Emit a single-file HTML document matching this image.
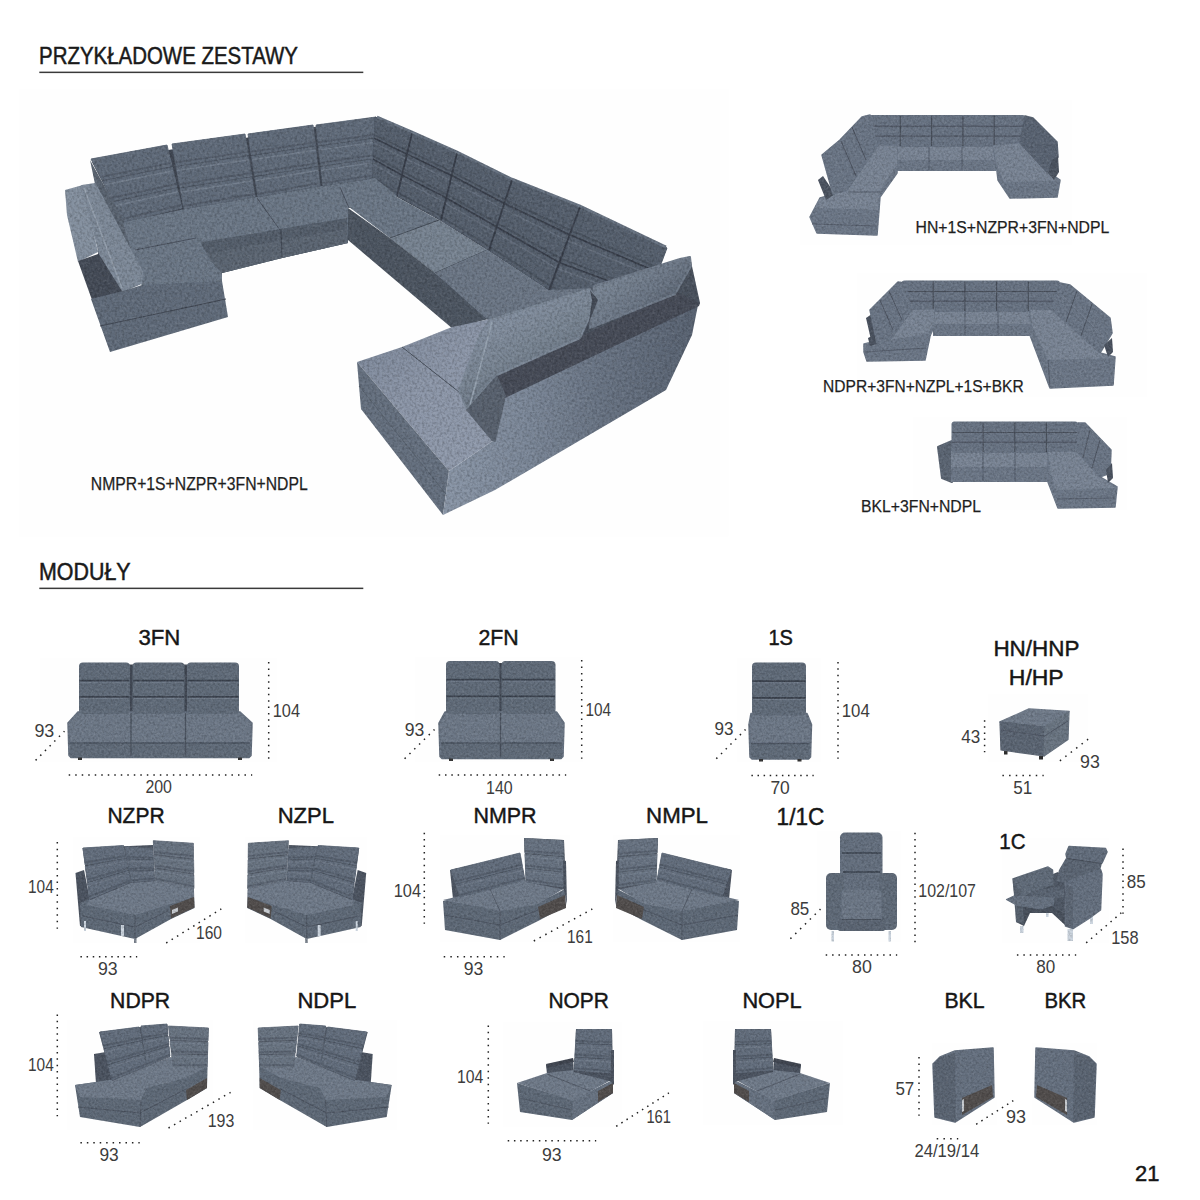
<!DOCTYPE html>
<html lang="pl"><head><meta charset="utf-8"><title>Moduły</title>
<style>
html,body{margin:0;padding:0;background:#fff}
svg{display:block}
text{font-family:"Liberation Sans",sans-serif;white-space:pre}
.d{stroke:#222;stroke-width:1.5;fill:none}
</style></head><body>
<svg width="1200" height="1200" viewBox="0 0 1200 1200">
<defs>
<filter id="b" x="-2%" y="-2%" width="104%" height="104%" color-interpolation-filters="sRGB">
<feGaussianBlur in="SourceGraphic" stdDeviation="0.7" result="bl"/>
<feTurbulence type="fractalNoise" baseFrequency="0.4" numOctaves="2" seed="3" result="n"/>
<feColorMatrix in="n" type="matrix" values="0 0 0 0 0  0 0 0 0 0  0 0 0 0 0  0.45 0 0 0 -0.18" result="na"/>
<feComposite in="na" in2="bl" operator="in" result="nd"/>
<feColorMatrix in="n" type="matrix" values="0 0 0 0 1  0 0 0 0 1  0 0 0 0 1  0 0.22 0 0 -0.1" result="nb"/>
<feComposite in="nb" in2="bl" operator="in" result="nl"/>
<feMerge><feMergeNode in="bl"/><feMergeNode in="nd"/><feMergeNode in="nl"/></feMerge>
</filter>
<linearGradient id="g0" gradientUnits="userSpaceOnUse" x1="360" y1="340" x2="470" y2="460"><stop offset="0" stop-color="#7e899b"/><stop offset="0.5" stop-color="#8d97a9"/><stop offset="1" stop-color="#909aac"/></linearGradient><linearGradient id="g1" gradientUnits="userSpaceOnUse" x1="450" y1="0" x2="700" y2="0"><stop offset="0" stop-color="#8995a6"/><stop offset="0.3" stop-color="#7c8899"/><stop offset="0.6" stop-color="#697484"/><stop offset="1" stop-color="#586271"/></linearGradient><linearGradient id="g2" gradientUnits="userSpaceOnUse" x1="600" y1="280" x2="640" y2="330"><stop offset="0" stop-color="#7c8897"/><stop offset="0.6" stop-color="#6d7887"/><stop offset="1" stop-color="#5b6573"/></linearGradient><linearGradient id="g3" gradientUnits="userSpaceOnUse" x1="500" y1="310" x2="540" y2="380"><stop offset="0" stop-color="#8692a3"/><stop offset="0.6" stop-color="#788492"/><stop offset="1" stop-color="#677281"/></linearGradient>
<filter id="b2" x="-3%" y="-3%" width="106%" height="106%" color-interpolation-filters="sRGB">
<feGaussianBlur in="SourceGraphic" stdDeviation="0.5" result="bl"/>
<feTurbulence type="fractalNoise" baseFrequency="0.45" numOctaves="2" seed="7" result="n"/>
<feColorMatrix in="n" type="matrix" values="0 0 0 0 0  0 0 0 0 0  0 0 0 0 0  0.4 0 0 0 -0.16" result="na"/>
<feComposite in="na" in2="bl" operator="in" result="nd"/>
<feColorMatrix in="n" type="matrix" values="0 0 0 0 1  0 0 0 0 1  0 0 0 0 1  0 0.22 0 0 -0.1" result="nb"/>
<feComposite in="nb" in2="bl" operator="in" result="nl"/>
<feMerge><feMergeNode in="bl"/><feMergeNode in="nd"/><feMergeNode in="nl"/></feMerge>
</filter>
</defs>
<rect x="19.0" y="89.0" width="709.5" height="447.5" rx="0" fill="#fefefe" />
<rect x="40.0" y="658.0" width="237.0" height="104.0" rx="0" fill="#fefefe" />
<rect x="415.0" y="657.0" width="168.0" height="105.0" rx="0" fill="#fefefe" />
<rect x="737.0" y="658.0" width="84.0" height="104.0" rx="0" fill="#fefefe" />
<rect x="988.0" y="694.0" width="100.0" height="68.0" rx="0" fill="#fefefe" />
<rect x="73.0" y="837.0" width="127.0" height="106.0" rx="0" fill="#fefefe" />
<rect x="245.0" y="837.0" width="122.0" height="106.0" rx="0" fill="#fefefe" />
<rect x="67.0" y="1020.0" width="146.0" height="110.0" rx="0" fill="#fefefe" />
<rect x="253.0" y="1020.0" width="144.0" height="110.0" rx="0" fill="#fefefe" />
<rect x="440.0" y="835.0" width="130.0" height="107.0" rx="0" fill="#fefefe" />
<rect x="613.0" y="835.0" width="127.0" height="107.0" rx="0" fill="#fefefe" />
<rect x="503.0" y="1022.0" width="119.0" height="105.0" rx="0" fill="#fefefe" />
<rect x="703.0" y="1021.0" width="140.0" height="104.0" rx="0" fill="#fefefe" />
<rect x="817.0" y="831.0" width="84.0" height="111.0" rx="0" fill="#fefefe" />
<rect x="1002.0" y="838.0" width="107.0" height="105.0" rx="0" fill="#fefefe" />
<rect x="932.0" y="1043.0" width="65.0" height="82.0" rx="0" fill="#fefefe" />
<rect x="1032.0" y="1043.0" width="65.0" height="82.0" rx="0" fill="#fefefe" />
<rect x="800.0" y="100.0" width="272.0" height="145.0" rx="0" fill="#fefefe" />
<rect x="857.0" y="273.0" width="290.0" height="124.0" rx="0" fill="#fefefe" />
<rect x="913.0" y="417.0" width="214.0" height="93.0" rx="0" fill="#fefefe" />
<g filter="url(#b)">
<polygon points="92.0,162.0 377.0,117.0 376.0,180.0 124.0,224.0" fill="#414854" />
<polygon points="123.0,222.0 185.0,209.0 257.0,197.0 322.0,186.0 375.0,178.0 400.0,190.0 348.0,208.0 348.0,243.0 282.0,258.0 222.0,273.0 222.0,283.0 142.0,286.0" fill="#6c7887" />
<polygon points="197.0,243.0 280.0,229.0 347.0,218.0 348.0,243.0 282.0,258.0 222.0,273.0 212.0,262.0" fill="#555f6c" />
<polygon points="203.0,254.0 281.0,240.0 347.0,229.0 348.0,243.0 282.0,258.0 222.0,273.0 212.0,262.0" fill="#5c6673" />
<polyline points="281.0,230.0 282.0,257.0" fill="none" stroke="#414854" stroke-width="1" />
<polyline points="257.0,198.0 280.0,230.0" fill="none" stroke="#414854" stroke-width="0.8" />
<g stroke-linejoin="round">
<polygon points="91.0,159.0 167.0,145.0 182.0,208.0 124.0,222.0" fill="#414854" />
<polygon points="91.0,159.0 167.0,145.0 172.0,166.0 102.0,180.0" fill="#616c7b" stroke="#616c7b" stroke-width="0.8"/>
<polyline points="100.3,176.8 171.2,162.8" fill="none" stroke="#414854" stroke-width="1.8" opacity="0.4"/>
<polygon points="102.6,181.2 172.3,167.3 177.0,187.0 113.0,201.0" fill="#616c7b" stroke="#616c7b" stroke-width="0.8"/>
<polyline points="104.5,184.7 173.1,170.8" fill="none" stroke="#7f8a99" stroke-width="1.4" opacity="0.6"/>
<polyline points="111.4,198.0 176.3,184.0" fill="none" stroke="#414854" stroke-width="1.8" opacity="0.4"/>
<polygon points="113.6,202.2 177.3,188.3 182.0,208.0 124.0,222.0" fill="#616c7b" stroke="#616c7b" stroke-width="0.8"/>
<polyline points="115.5,205.7 178.1,191.8" fill="none" stroke="#7f8a99" stroke-width="1.4" opacity="0.6"/>
<polyline points="122.4,219.0 181.3,205.0" fill="none" stroke="#414854" stroke-width="1.8" opacity="0.4"/>
</g>
<g stroke-linejoin="round">
<polygon points="172.0,144.0 245.0,134.0 255.0,197.0 184.0,209.0" fill="#414854" />
<polygon points="172.0,144.0 245.0,134.0 248.3,155.0 176.0,165.7" fill="#616c7b" stroke="#616c7b" stroke-width="0.8"/>
<polyline points="175.4,162.4 247.8,151.8" fill="none" stroke="#414854" stroke-width="1.8" opacity="0.4"/>
<polygon points="176.2,166.9 248.5,156.3 251.7,176.0 180.0,187.3" fill="#616c7b" stroke="#616c7b" stroke-width="0.8"/>
<polyline points="176.9,170.6 249.1,159.8" fill="none" stroke="#7f8a99" stroke-width="1.4" opacity="0.6"/>
<polyline points="179.4,184.3 251.2,173.0" fill="none" stroke="#414854" stroke-width="1.8" opacity="0.4"/>
<polygon points="180.2,188.6 251.9,177.3 255.0,197.0 184.0,209.0" fill="#616c7b" stroke="#616c7b" stroke-width="0.8"/>
<polyline points="180.9,192.3 252.4,180.8" fill="none" stroke="#7f8a99" stroke-width="1.4" opacity="0.6"/>
<polyline points="183.4,205.9 254.5,194.0" fill="none" stroke="#414854" stroke-width="1.8" opacity="0.4"/>
</g>
<g stroke-linejoin="round">
<polygon points="248.0,134.0 313.0,125.0 320.0,186.0 258.0,197.0" fill="#414854" />
<polygon points="248.0,134.0 313.0,125.0 315.3,145.3 251.3,155.0" fill="#616c7b" stroke="#616c7b" stroke-width="0.8"/>
<polyline points="250.8,151.8 315.0,142.3" fill="none" stroke="#414854" stroke-width="1.8" opacity="0.4"/>
<polygon points="251.5,156.3 315.5,146.6 317.7,165.7 254.7,176.0" fill="#616c7b" stroke="#616c7b" stroke-width="0.8"/>
<polyline points="252.1,159.8 315.9,150.1" fill="none" stroke="#7f8a99" stroke-width="1.4" opacity="0.6"/>
<polyline points="254.2,173.0 317.3,162.8" fill="none" stroke="#414854" stroke-width="1.8" opacity="0.4"/>
<polygon points="254.9,177.3 317.8,167.0 320.0,186.0 258.0,197.0" fill="#616c7b" stroke="#616c7b" stroke-width="0.8"/>
<polyline points="255.4,180.8 318.2,170.4" fill="none" stroke="#7f8a99" stroke-width="1.4" opacity="0.6"/>
<polyline points="257.5,194.0 319.7,183.1" fill="none" stroke="#414854" stroke-width="1.8" opacity="0.4"/>
</g>
<g stroke-linejoin="round">
<polygon points="316.0,125.0 376.0,117.0 375.0,178.0 323.0,186.0" fill="#414854" />
<polygon points="316.0,125.0 376.0,117.0 375.7,137.3 318.3,145.3" fill="#616c7b" stroke="#616c7b" stroke-width="0.8"/>
<polyline points="318.0,142.3 375.7,134.3" fill="none" stroke="#414854" stroke-width="1.8" opacity="0.4"/>
<polygon points="318.5,146.6 375.6,138.6 375.3,157.7 320.7,165.7" fill="#616c7b" stroke="#616c7b" stroke-width="0.8"/>
<polyline points="318.9,150.1 375.6,142.1" fill="none" stroke="#7f8a99" stroke-width="1.4" opacity="0.6"/>
<polyline points="320.3,162.8 375.4,154.8" fill="none" stroke="#414854" stroke-width="1.8" opacity="0.4"/>
<polygon points="320.8,167.0 375.3,159.0 375.0,178.0 323.0,186.0" fill="#616c7b" stroke="#616c7b" stroke-width="0.8"/>
<polyline points="321.2,170.4 375.3,162.4" fill="none" stroke="#7f8a99" stroke-width="1.4" opacity="0.6"/>
<polyline points="322.7,183.1 375.0,175.1" fill="none" stroke="#414854" stroke-width="1.8" opacity="0.4"/>
</g>
<polygon points="90.0,160.0 125.0,223.0 143.0,274.0 141.0,284.0 120.0,292.0 98.0,254.0 95.0,184.0" fill="#5b6572" />
<polygon points="65.0,190.0 83.0,185.0 98.0,252.0 78.0,262.0 67.0,215.0" fill="#8591a0" />
<polygon points="78.0,261.0 101.0,253.0 125.0,291.0 92.0,300.0" fill="#454c58" />
<polygon points="123.0,223.0 183.0,210.0 222.0,282.0 142.0,286.0" fill="#6c7887" />
<polygon points="82.0,186.0 95.0,184.0 142.0,272.0 141.0,283.0 123.0,291.0 100.0,254.0" fill="#7e8a99" stroke="#7e8a99" stroke-width="2" stroke-linejoin="round"/>
<polyline points="84.0,188.0 122.0,288.0" fill="none" stroke="#949fad" stroke-width="1.5" />
<polygon points="91.0,299.0 123.0,291.0 142.0,285.0 222.0,281.0 228.0,317.0 110.0,352.0" fill="#616c7b" />
<polyline points="100.0,326.0 226.0,299.0" fill="none" stroke="#414854" stroke-width="1" />
<polyline points="135.0,250.0 196.0,238.0" fill="none" stroke="#414854" stroke-width="0.8" />
<polygon points="375.0,117.0 667.0,248.0 660.0,262.0 600.0,300.0 548.0,290.0 487.0,250.0 439.0,220.0 395.0,196.0 372.0,180.0" fill="#454d59" />
<g stroke-linejoin="round">
<polygon points="375.0,117.0 412.0,133.0 397.0,196.0 372.0,180.0" fill="#383e49" />
<polygon points="375.0,117.0 412.0,133.0 407.0,154.0 374.0,138.0" fill="#56606e" stroke="#56606e" stroke-width="0.8"/>
<polyline points="374.1,134.8 407.8,150.8" fill="none" stroke="#383e49" stroke-width="1.8" opacity="0.4"/>
<polygon points="373.9,139.3 406.7,155.3 402.0,175.0 373.0,159.0" fill="#56606e" stroke="#56606e" stroke-width="0.8"/>
<polyline points="373.8,142.8 405.9,158.8" fill="none" stroke="#6e7887" stroke-width="1.4" opacity="0.6"/>
<polyline points="373.1,156.0 402.7,172.0" fill="none" stroke="#383e49" stroke-width="1.8" opacity="0.4"/>
<polygon points="372.9,160.3 401.7,176.3 397.0,196.0 372.0,180.0" fill="#56606e" stroke="#56606e" stroke-width="0.8"/>
<polyline points="372.8,163.8 400.9,179.8" fill="none" stroke="#6e7887" stroke-width="1.4" opacity="0.6"/>
<polyline points="372.1,177.0 397.7,193.0" fill="none" stroke="#383e49" stroke-width="1.8" opacity="0.4"/>
</g>
<g stroke-linejoin="round">
<polygon points="412.0,133.0 457.0,153.0 441.0,220.0 398.0,196.0" fill="#383e49" />
<polygon points="412.0,133.0 457.0,153.0 451.7,175.3 407.3,154.0" fill="#56606e" stroke="#56606e" stroke-width="0.8"/>
<polyline points="408.0,150.8 452.5,172.0" fill="none" stroke="#383e49" stroke-width="1.8" opacity="0.4"/>
<polygon points="407.1,155.3 451.4,176.6 446.3,197.7 402.7,175.0" fill="#56606e" stroke="#56606e" stroke-width="0.8"/>
<polyline points="406.3,158.8 450.5,180.4" fill="none" stroke="#6e7887" stroke-width="1.4" opacity="0.6"/>
<polyline points="403.3,172.0 447.1,194.5" fill="none" stroke="#383e49" stroke-width="1.8" opacity="0.4"/>
<polygon points="402.4,176.3 446.0,198.9 441.0,220.0 398.0,196.0" fill="#56606e" stroke="#56606e" stroke-width="0.8"/>
<polyline points="401.6,179.8 445.1,202.7" fill="none" stroke="#6e7887" stroke-width="1.4" opacity="0.6"/>
<polyline points="398.7,193.0 441.8,216.8" fill="none" stroke="#383e49" stroke-width="1.8" opacity="0.4"/>
</g>
<g stroke-linejoin="round">
<polygon points="457.0,153.0 512.0,180.0 489.0,250.0 442.0,221.0" fill="#383e49" />
<polygon points="457.0,153.0 512.0,180.0 504.3,203.3 452.0,175.7" fill="#56606e" stroke="#56606e" stroke-width="0.8"/>
<polyline points="452.8,172.3 505.5,199.8" fill="none" stroke="#383e49" stroke-width="1.8" opacity="0.4"/>
<polygon points="451.7,176.9 503.9,204.6 496.7,226.7 447.0,198.3" fill="#56606e" stroke="#56606e" stroke-width="0.8"/>
<polyline points="450.9,180.8 502.6,208.5" fill="none" stroke="#6e7887" stroke-width="1.4" opacity="0.6"/>
<polyline points="447.7,195.1 497.8,223.4" fill="none" stroke="#383e49" stroke-width="1.8" opacity="0.4"/>
<polygon points="446.7,199.6 496.3,227.9 489.0,250.0 442.0,221.0" fill="#56606e" stroke="#56606e" stroke-width="0.8"/>
<polyline points="445.9,203.5 495.0,231.9" fill="none" stroke="#6e7887" stroke-width="1.4" opacity="0.6"/>
<polyline points="442.7,217.8 490.1,246.7" fill="none" stroke="#383e49" stroke-width="1.8" opacity="0.4"/>
</g>
<g stroke-linejoin="round">
<polygon points="512.0,180.0 580.0,207.0 549.0,290.0 490.0,251.0" fill="#383e49" />
<polygon points="512.0,180.0 580.0,207.0 569.7,234.7 504.7,203.7" fill="#56606e" stroke="#56606e" stroke-width="0.8"/>
<polyline points="505.8,200.1 571.2,230.5" fill="none" stroke="#383e49" stroke-width="1.8" opacity="0.4"/>
<polygon points="504.3,204.9 569.2,235.9 559.3,262.3 497.3,227.3" fill="#56606e" stroke="#56606e" stroke-width="0.8"/>
<polyline points="503.0,208.9 567.4,240.6" fill="none" stroke="#6e7887" stroke-width="1.4" opacity="0.6"/>
<polyline points="498.4,224.0 560.8,258.4" fill="none" stroke="#383e49" stroke-width="1.8" opacity="0.4"/>
<polygon points="496.9,228.6 558.9,263.6 549.0,290.0 490.0,251.0" fill="#56606e" stroke="#56606e" stroke-width="0.8"/>
<polyline points="495.7,232.6 557.1,268.3" fill="none" stroke="#6e7887" stroke-width="1.4" opacity="0.6"/>
<polyline points="491.0,247.6 550.5,286.0" fill="none" stroke="#383e49" stroke-width="1.8" opacity="0.4"/>
</g>
<g stroke-linejoin="round">
<polygon points="580.0,207.0 667.0,248.0 640.0,320.0 551.0,291.0" fill="#383e49" />
<polygon points="580.0,207.0 667.0,248.0 658.0,272.0 570.3,235.0" fill="#56606e" stroke="#56606e" stroke-width="0.8"/>
<polyline points="571.8,230.8 659.4,268.4" fill="none" stroke="#383e49" stroke-width="1.8" opacity="0.4"/>
<polygon points="569.9,236.2 657.5,273.2 649.0,296.0 560.7,263.0" fill="#56606e" stroke="#56606e" stroke-width="0.8"/>
<polyline points="568.2,241.0 656.0,277.3" fill="none" stroke="#6e7887" stroke-width="1.4" opacity="0.6"/>
<polyline points="562.1,259.0 650.3,292.6" fill="none" stroke="#383e49" stroke-width="1.8" opacity="0.4"/>
<polygon points="560.2,264.2 648.5,297.2 640.0,320.0 551.0,291.0" fill="#56606e" stroke="#56606e" stroke-width="0.8"/>
<polyline points="558.6,269.0 647.0,301.3" fill="none" stroke="#6e7887" stroke-width="1.4" opacity="0.6"/>
<polyline points="552.4,287.0 641.3,316.6" fill="none" stroke="#383e49" stroke-width="1.8" opacity="0.4"/>
</g>
<polyline points="412.0,133.0 397.0,196.0" fill="none" stroke="#383e4a" stroke-width="1.8" />
<polyline points="457.0,153.0 441.0,220.0" fill="none" stroke="#383e4a" stroke-width="1.8" />
<polyline points="512.0,180.0 489.0,250.0" fill="none" stroke="#383e4a" stroke-width="1.8" />
<polyline points="580.0,207.0 549.0,290.0" fill="none" stroke="#383e4a" stroke-width="1.8" />
<polyline points="374.0,138.0 407.0,154.0 451.7,175.3 504.3,203.3 569.7,234.7 658.0,272.0" fill="none" stroke="#383e4a" stroke-width="1.3" />
<polyline points="373.0,159.0 402.0,175.0 446.3,197.7 496.7,226.7 559.3,262.3 649.0,296.0" fill="none" stroke="#383e4a" stroke-width="1.3" />
<polyline points="377.0,117.0 412.0,132.0 457.0,152.0 512.0,179.0 580.0,206.0 666.0,247.0" fill="none" stroke="#687382" stroke-width="2.5" />
<polygon points="349.0,207.0 372.0,180.0 395.0,196.0 439.0,220.0 487.0,250.0 548.0,290.0 490.0,316.0 435.0,273.0 390.0,238.0" fill="#6c7887" />
<polygon points="390.0,238.0 439.0,220.0 487.0,250.0 548.0,290.0 490.0,316.0 435.0,273.0" fill="#788492" />
<polyline points="390.0,238.0 439.0,220.0" fill="none" stroke="#414854" stroke-width="0.9" />
<polyline points="435.0,273.0 487.0,250.0" fill="none" stroke="#414854" stroke-width="0.9" />
<polygon points="348.0,208.0 390.0,238.0 435.0,273.0 492.0,318.0 453.0,329.0 348.0,240.0" fill="#4d5662" />
<polygon points="340.0,186.0 375.0,178.0 397.0,196.0 349.0,208.0" fill="#6c7887" />
<polyline points="349.0,208.0 340.0,187.0" fill="none" stroke="#414854" stroke-width="0.8" />
<polygon points="435.0,273.0 487.0,250.0 548.0,290.0 600.0,288.0 560.0,310.0 490.0,322.0" fill="#6c7786" />
<polygon points="486.0,322.0 690.0,257.0 700.0,303.0 505.0,396.0 470.0,400.0" fill="#4a525e" />
<polygon points="357.0,362.0 402.0,347.0 452.0,327.0 490.0,319.0 459.0,390.0 494.0,440.0 449.0,471.0" fill="url(#g0)" />
<polyline points="402.0,347.0 459.0,392.0" fill="none" stroke="#414854" stroke-width="0.9" />
<polygon points="357.0,362.0 449.0,471.0 443.0,515.0 361.0,409.0" fill="#667180" />
<polyline points="359.0,386.0 446.0,494.0" fill="none" stroke="#58626f" stroke-width="1" />
<polygon points="449.0,471.0 494.0,440.0 505.0,395.0 698.0,305.0 692.0,335.0 666.0,390.0 495.0,490.0 443.0,515.0" fill="url(#g1)" />
<polygon points="497.0,375.0 677.0,292.0 700.0,303.0 699.0,306.0 505.0,398.0" fill="#474c58" />
<polygon points="594.0,286.0 680.0,259.0 690.0,257.0 691.0,266.0 675.0,294.0 590.0,328.0" fill="url(#g2)" stroke="#717c8b" stroke-width="2" stroke-linejoin="round"/>
<polygon points="490.0,320.0 590.0,289.0 597.0,300.0 580.0,338.0 497.0,375.0 467.0,410.0 459.0,390.0 481.0,332.0" fill="url(#g3)" stroke="#7c8897" stroke-width="2" stroke-linejoin="round"/>
<polyline points="492.0,322.0 470.0,405.0" fill="none" stroke="#95a1af" stroke-width="1.5" />
<polygon points="590.0,290.0 598.0,300.0 583.0,337.0 588.0,330.0 592.0,300.0" fill="#444b57" />
<polygon points="466.0,410.0 497.0,375.0 506.0,396.0 495.5,442.0 492.0,441.0" fill="#59626f" />
</g>
<g filter="url(#b2)">
<rect x="80.0" y="664.5" width="158.0" height="48.5" rx="0" fill="#414854" />
<polygon points="78.0,712.0 240.0,712.0 252.0,723.0 251.0,755.5 249.0,757.5 71.0,757.5 69.0,755.5 68.0,723.0" fill="#677281" stroke="#677281" stroke-width="1.5" stroke-linejoin="round"/>
<polygon points="79.0,713.0 239.0,713.0 251.0,724.0 250.0,743.0 70.0,743.0 69.0,724.0" fill="#6e7988" />
<rect x="70.0" y="743.0" width="180.0" height="14.5" rx="0" fill="#616c7a" />
<polyline points="70.0,743.0 250.0,743.0" fill="none" stroke="#4d5663" stroke-width="1.3" />
<rect x="79" y="662.5" width="51" height="51.5" rx="4" fill="#616c7a"/>
<polyline points="79.5,680.7 129.5,680.7" fill="none" stroke="#3b424e" stroke-width="1.7" />
<polyline points="80.5,682.3 128.5,682.3" fill="none" stroke="#7d8897" stroke-width="1.1" opacity="0.6"/>
<polyline points="79.5,696.8 129.5,696.8" fill="none" stroke="#3b424e" stroke-width="1.7" />
<polyline points="80.5,698.4 128.5,698.4" fill="none" stroke="#7d8897" stroke-width="1.1" opacity="0.6"/>
<rect x="132.5" y="662.5" width="52.0" height="51.5" rx="4" fill="#616c7a"/>
<polyline points="133.0,680.7 184.0,680.7" fill="none" stroke="#3b424e" stroke-width="1.7" />
<polyline points="134.0,682.3 183.0,682.3" fill="none" stroke="#7d8897" stroke-width="1.1" opacity="0.6"/>
<polyline points="133.0,696.8 184.0,696.8" fill="none" stroke="#3b424e" stroke-width="1.7" />
<polyline points="134.0,698.4 183.0,698.4" fill="none" stroke="#7d8897" stroke-width="1.1" opacity="0.6"/>
<rect x="187" y="662.5" width="52" height="51.5" rx="4" fill="#616c7a"/>
<polyline points="187.5,680.7 238.5,680.7" fill="none" stroke="#3b424e" stroke-width="1.7" />
<polyline points="188.5,682.3 237.5,682.3" fill="none" stroke="#7d8897" stroke-width="1.1" opacity="0.6"/>
<polyline points="187.5,696.8 238.5,696.8" fill="none" stroke="#3b424e" stroke-width="1.7" />
<polyline points="188.5,698.4 237.5,698.4" fill="none" stroke="#7d8897" stroke-width="1.1" opacity="0.6"/>
<polyline points="131.0,713.0 131.0,755.5" fill="none" stroke="#4a525f" stroke-width="1.3" />
<polyline points="185.5,713.0 185.5,755.5" fill="none" stroke="#4a525f" stroke-width="1.3" />
<rect x="78.0" y="757.5" width="4.0" height="2.5" rx="0" fill="#333" />
<rect x="238.0" y="757.5" width="4.0" height="2.5" rx="0" fill="#333" />
</g>
<g filter="url(#b2)">
<rect x="447.0" y="663.0" width="107.5" height="50.0" rx="0" fill="#414854" />
<polygon points="445.0,712.0 556.5,712.0 564.0,723.0 563.0,756.5 561.0,758.5 442.0,758.5 440.0,756.5 439.0,723.0" fill="#677281" stroke="#677281" stroke-width="1.5" stroke-linejoin="round"/>
<polygon points="446.0,713.0 555.5,713.0 563.0,724.0 562.0,743.0 441.0,743.0 440.0,724.0" fill="#6e7988" />
<rect x="441.0" y="743.0" width="121.0" height="15.5" rx="0" fill="#616c7a" />
<polyline points="441.0,743.0 562.0,743.0" fill="none" stroke="#4d5663" stroke-width="1.3" />
<rect x="446" y="661" width="53.5" height="53" rx="4" fill="#616c7a"/>
<polyline points="446.5,679.7 499.0,679.7" fill="none" stroke="#3b424e" stroke-width="1.7" />
<polyline points="447.5,681.3 498.0,681.3" fill="none" stroke="#7d8897" stroke-width="1.1" opacity="0.6"/>
<polyline points="446.5,696.4 499.0,696.4" fill="none" stroke="#3b424e" stroke-width="1.7" />
<polyline points="447.5,698.0 498.0,698.0" fill="none" stroke="#7d8897" stroke-width="1.1" opacity="0.6"/>
<rect x="501.5" y="661" width="54.0" height="53" rx="4" fill="#616c7a"/>
<polyline points="502.0,679.7 555.0,679.7" fill="none" stroke="#3b424e" stroke-width="1.7" />
<polyline points="503.0,681.3 554.0,681.3" fill="none" stroke="#7d8897" stroke-width="1.1" opacity="0.6"/>
<polyline points="502.0,696.4 555.0,696.4" fill="none" stroke="#3b424e" stroke-width="1.7" />
<polyline points="503.0,698.0 554.0,698.0" fill="none" stroke="#7d8897" stroke-width="1.1" opacity="0.6"/>
<polyline points="500.5,713.0 500.5,756.5" fill="none" stroke="#4a525f" stroke-width="1.3" />
<rect x="449.0" y="758.5" width="4.0" height="2.5" rx="0" fill="#333" />
<rect x="550.0" y="758.5" width="4.0" height="2.5" rx="0" fill="#333" />
</g>
<g filter="url(#b2)">
<rect x="753.0" y="664.5" width="52.0" height="50.0" rx="0" fill="#414854" />
<polygon points="751.0,713.5 807.0,713.5 811.5,724.5 810.5,757.0 808.5,759.0 752.0,759.0 750.0,757.0 749.0,724.5" fill="#677281" stroke="#677281" stroke-width="1.5" stroke-linejoin="round"/>
<polygon points="752.0,714.5 806.0,714.5 810.5,725.5 809.5,743.5 751.0,743.5 750.0,725.5" fill="#6e7988" />
<rect x="751.0" y="743.5" width="58.5" height="15.5" rx="0" fill="#616c7a" />
<polyline points="751.0,743.5 809.5,743.5" fill="none" stroke="#4d5663" stroke-width="1.3" />
<rect x="752" y="662.5" width="54" height="53.0" rx="4" fill="#616c7a"/>
<polyline points="752.5,681.2 805.5,681.2" fill="none" stroke="#3b424e" stroke-width="1.7" />
<polyline points="753.5,682.8 804.5,682.8" fill="none" stroke="#7d8897" stroke-width="1.1" opacity="0.6"/>
<polyline points="752.5,697.9 805.5,697.9" fill="none" stroke="#3b424e" stroke-width="1.7" />
<polyline points="753.5,699.5 804.5,699.5" fill="none" stroke="#7d8897" stroke-width="1.1" opacity="0.6"/>
<rect x="759.0" y="759.0" width="4.0" height="2.5" rx="0" fill="#333" />
<rect x="797.5" y="759.0" width="4.0" height="2.5" rx="0" fill="#333" />
</g>
<g filter="url(#b2)">
<polygon points="75.5,873.0 84.0,870.0 90.0,900.0 87.0,927.0 80.0,926.0" fill="#4c5461" />
<polygon points="80.0,903.0 90.0,899.0 194.0,890.0 194.5,908.0 171.0,919.0 135.0,939.0 81.0,927.0" fill="#5f6a78" />
<polygon points="89.5,899.0 131.0,881.0 154.7,880.0 194.0,888.5 194.0,897.0 169.5,904.5 135.0,915.0 87.0,905.0" fill="#707b8a" />
<polyline points="83.0,916.0 135.0,927.0 168.0,911.0" fill="none" stroke="#4c5461" stroke-width="0.9" />
<polyline points="135.0,915.0 135.0,939.0" fill="none" stroke="#4c5461" stroke-width="0.8" />
<polygon points="170.0,906.0 194.0,897.0 194.5,907.5 171.0,918.5" fill="#524e4d" />
<polygon points="172.0,910.0 178.0,907.5 178.0,911.5 172.0,914.0" fill="#c9cdd2" />
<polygon points="82.5,848.0 153.0,845.0 155.0,881.0 131.0,883.0 90.0,900.0" fill="#4c5461" />
<g stroke-linejoin="round">
<polygon points="83.0,848.0 123.5,845.5 130.5,882.0 89.5,899.0" fill="#414854" />
<polygon points="83.0,848.0 123.5,845.5 125.8,857.7 85.2,865.0" fill="#636e7d" stroke="#636e7d" stroke-width="0.8"/>
<polyline points="84.8,862.5 125.5,855.8" fill="none" stroke="#414854" stroke-width="1.8" opacity="0.4"/>
<polygon points="85.3,866.3 126.1,858.9 128.2,869.8 87.3,882.0" fill="#636e7d" stroke="#636e7d" stroke-width="0.8"/>
<polyline points="85.7,869.1 126.5,860.9" fill="none" stroke="#747f8e" stroke-width="1.4" opacity="0.6"/>
<polyline points="87.0,879.6 127.9,868.2" fill="none" stroke="#414854" stroke-width="1.8" opacity="0.4"/>
<polygon points="87.5,883.3 128.4,871.1 130.5,882.0 89.5,899.0" fill="#636e7d" stroke="#636e7d" stroke-width="0.8"/>
<polyline points="87.9,886.1 128.8,873.1" fill="none" stroke="#747f8e" stroke-width="1.4" opacity="0.6"/>
<polyline points="89.2,896.6 130.2,880.4" fill="none" stroke="#414854" stroke-width="1.8" opacity="0.4"/>
</g>
<g stroke-linejoin="round">
<polygon points="124.8,846.5 152.8,849.0 154.5,880.0 131.8,882.0" fill="#414854" />
<polygon points="124.8,846.5 152.8,849.0 153.4,859.3 127.1,858.3" fill="#636e7d" stroke="#636e7d" stroke-width="0.8"/>
<polyline points="126.8,856.6 153.3,857.8" fill="none" stroke="#414854" stroke-width="1.8" opacity="0.4"/>
<polygon points="127.4,859.6 153.4,860.6 153.9,869.7 129.5,870.2" fill="#636e7d" stroke="#636e7d" stroke-width="0.8"/>
<polyline points="127.8,861.5 153.5,862.3" fill="none" stroke="#747f8e" stroke-width="1.4" opacity="0.6"/>
<polyline points="129.2,868.6 153.9,868.3" fill="none" stroke="#414854" stroke-width="1.8" opacity="0.4"/>
<polygon points="129.7,871.4 154.0,871.0 154.5,880.0 131.8,882.0" fill="#636e7d" stroke="#636e7d" stroke-width="0.8"/>
<polyline points="130.1,873.3 154.1,872.6" fill="none" stroke="#747f8e" stroke-width="1.4" opacity="0.6"/>
<polyline points="131.5,880.4 154.4,878.6" fill="none" stroke="#414854" stroke-width="1.8" opacity="0.4"/>
</g>
<g stroke-linejoin="round">
<polygon points="153.3,840.7 193.3,843.3 194.0,888.5 155.5,880.5" fill="#414854" />
<polygon points="153.3,840.7 193.3,843.3 193.5,858.4 154.0,854.0" fill="#697482" stroke="#697482" stroke-width="0.8"/>
<polyline points="153.9,852.0 193.5,856.1" fill="none" stroke="#414854" stroke-width="1.8" opacity="0.4"/>
<polygon points="154.1,855.3 193.6,859.7 193.8,873.4 154.8,867.2" fill="#697482" stroke="#697482" stroke-width="0.8"/>
<polyline points="154.2,857.4 193.6,862.1" fill="none" stroke="#788392" stroke-width="1.4" opacity="0.6"/>
<polyline points="154.7,865.4 193.7,871.4" fill="none" stroke="#414854" stroke-width="1.8" opacity="0.4"/>
<polygon points="154.8,868.5 193.8,874.7 194.0,888.5 155.5,880.5" fill="#697482" stroke="#697482" stroke-width="0.8"/>
<polyline points="155.0,870.7 193.8,877.2" fill="none" stroke="#788392" stroke-width="1.4" opacity="0.6"/>
<polyline points="155.4,878.7 194.0,886.4" fill="none" stroke="#414854" stroke-width="1.8" opacity="0.4"/>
</g>
<polygon points="121.0,925.0 124.0,925.0 124.0,936.0 121.0,936.0" fill="#ccd5df" />
<polygon points="134.0,938.0 136.5,938.0 136.5,943.0 134.0,943.0" fill="#7c848f" />
<polygon points="84.0,921.0 86.0,921.0 86.0,931.0 84.0,931.0" fill="#ccd5df" />
</g>
<g filter="url(#b2)">
<polygon points="366.2,873.0 357.7,870.0 351.7,900.0 354.7,927.0 361.7,926.0" fill="#4c5461" />
<polygon points="361.7,903.0 351.7,899.0 247.7,890.0 247.2,908.0 270.7,919.0 306.7,939.0 360.7,927.0" fill="#5f6a78" />
<polygon points="352.2,899.0 310.7,881.0 287.0,880.0 247.7,888.5 247.7,897.0 272.2,904.5 306.7,915.0 354.7,905.0" fill="#707b8a" />
<polyline points="358.7,916.0 306.7,927.0 273.7,911.0" fill="none" stroke="#4c5461" stroke-width="0.9" />
<polyline points="306.7,915.0 306.7,939.0" fill="none" stroke="#4c5461" stroke-width="0.8" />
<polygon points="271.7,906.0 247.7,897.0 247.2,907.5 270.7,918.5" fill="#524e4d" />
<polygon points="269.7,910.0 263.7,907.5 263.7,911.5 269.7,914.0" fill="#c9cdd2" />
<polygon points="359.2,848.0 288.7,845.0 286.7,881.0 310.7,883.0 351.7,900.0" fill="#4c5461" />
<g stroke-linejoin="round">
<polygon points="358.7,848.0 318.2,845.5 311.2,882.0 352.2,899.0" fill="#414854" />
<polygon points="358.7,848.0 318.2,845.5 315.9,857.7 356.5,865.0" fill="#636e7d" stroke="#636e7d" stroke-width="0.8"/>
<polyline points="356.9,862.5 316.2,855.8" fill="none" stroke="#414854" stroke-width="1.8" opacity="0.4"/>
<polygon points="356.4,866.3 315.6,858.9 313.5,869.8 354.4,882.0" fill="#636e7d" stroke="#636e7d" stroke-width="0.8"/>
<polyline points="356.0,869.1 315.2,860.9" fill="none" stroke="#747f8e" stroke-width="1.4" opacity="0.6"/>
<polyline points="354.7,879.6 313.8,868.2" fill="none" stroke="#414854" stroke-width="1.8" opacity="0.4"/>
<polygon points="354.2,883.3 313.3,871.1 311.2,882.0 352.2,899.0" fill="#636e7d" stroke="#636e7d" stroke-width="0.8"/>
<polyline points="353.8,886.1 312.9,873.1" fill="none" stroke="#747f8e" stroke-width="1.4" opacity="0.6"/>
<polyline points="352.5,896.6 311.5,880.4" fill="none" stroke="#414854" stroke-width="1.8" opacity="0.4"/>
</g>
<g stroke-linejoin="round">
<polygon points="316.9,846.5 288.9,849.0 287.2,880.0 309.9,882.0" fill="#414854" />
<polygon points="316.9,846.5 288.9,849.0 288.3,859.3 314.6,858.3" fill="#636e7d" stroke="#636e7d" stroke-width="0.8"/>
<polyline points="314.9,856.6 288.4,857.8" fill="none" stroke="#414854" stroke-width="1.8" opacity="0.4"/>
<polygon points="314.3,859.6 288.3,860.6 287.8,869.7 312.2,870.2" fill="#636e7d" stroke="#636e7d" stroke-width="0.8"/>
<polyline points="313.9,861.5 288.2,862.3" fill="none" stroke="#747f8e" stroke-width="1.4" opacity="0.6"/>
<polyline points="312.5,868.6 287.8,868.3" fill="none" stroke="#414854" stroke-width="1.8" opacity="0.4"/>
<polygon points="312.0,871.4 287.7,871.0 287.2,880.0 309.9,882.0" fill="#636e7d" stroke="#636e7d" stroke-width="0.8"/>
<polyline points="311.6,873.3 287.6,872.6" fill="none" stroke="#747f8e" stroke-width="1.4" opacity="0.6"/>
<polyline points="310.2,880.4 287.3,878.6" fill="none" stroke="#414854" stroke-width="1.8" opacity="0.4"/>
</g>
<g stroke-linejoin="round">
<polygon points="288.4,840.7 248.4,843.3 247.7,888.5 286.2,880.5" fill="#414854" />
<polygon points="288.4,840.7 248.4,843.3 248.2,858.4 287.7,854.0" fill="#697482" stroke="#697482" stroke-width="0.8"/>
<polyline points="287.8,852.0 248.2,856.1" fill="none" stroke="#414854" stroke-width="1.8" opacity="0.4"/>
<polygon points="287.6,855.3 248.1,859.7 247.9,873.4 286.9,867.2" fill="#697482" stroke="#697482" stroke-width="0.8"/>
<polyline points="287.5,857.4 248.1,862.1" fill="none" stroke="#788392" stroke-width="1.4" opacity="0.6"/>
<polyline points="287.0,865.4 248.0,871.4" fill="none" stroke="#414854" stroke-width="1.8" opacity="0.4"/>
<polygon points="286.9,868.5 247.9,874.7 247.7,888.5 286.2,880.5" fill="#697482" stroke="#697482" stroke-width="0.8"/>
<polyline points="286.7,870.7 247.9,877.2" fill="none" stroke="#788392" stroke-width="1.4" opacity="0.6"/>
<polyline points="286.3,878.7 247.7,886.4" fill="none" stroke="#414854" stroke-width="1.8" opacity="0.4"/>
</g>
<polygon points="320.7,925.0 317.7,925.0 317.7,936.0 320.7,936.0" fill="#ccd5df" />
<polygon points="307.7,938.0 305.2,938.0 305.2,943.0 307.7,943.0" fill="#7c848f" />
<polygon points="357.7,921.0 355.7,921.0 355.7,931.0 357.7,931.0" fill="#ccd5df" />
</g>
<g filter="url(#b2)">
<polygon points="94.0,1054.0 106.0,1052.0 113.0,1080.0 96.0,1084.0" fill="#4c5461" />
<polygon points="75.0,1085.0 110.0,1080.0 147.0,1087.0 187.0,1075.0 208.0,1050.0 207.0,1088.0 187.0,1100.0 140.0,1127.0 80.0,1117.0" fill="#5f6a78" />
<polygon points="112.0,1080.0 170.0,1057.0 208.0,1066.0 186.0,1078.0 147.0,1088.0 110.0,1082.0" fill="#707b8a" />
<polygon points="75.0,1085.0 110.0,1080.0 147.0,1087.0 141.0,1100.0 80.0,1097.0" fill="#707b8a" />
<polyline points="78.0,1107.0 140.0,1113.0 186.0,1089.0" fill="none" stroke="#4c5461" stroke-width="0.9" />
<polyline points="141.0,1100.0 140.0,1127.0" fill="none" stroke="#4c5461" stroke-width="0.8" />
<polygon points="186.0,1090.0 207.0,1078.0 207.0,1088.0 187.0,1100.0" fill="#524e4d" />
<polygon points="99.0,1032.0 167.0,1024.0 170.0,1057.0 112.0,1081.0" fill="#4c5461" />
<g stroke-linejoin="round">
<polygon points="100.0,1032.0 139.0,1027.0 146.0,1066.0 112.0,1080.0" fill="#414854" />
<polygon points="100.0,1032.0 139.0,1027.0 141.3,1040.0 104.0,1048.0" fill="#636e7d" stroke="#636e7d" stroke-width="0.8"/>
<polyline points="103.4,1045.6 141.0,1038.0" fill="none" stroke="#414854" stroke-width="1.8" opacity="0.4"/>
<polygon points="104.3,1049.3 141.6,1041.3 143.7,1053.0 108.0,1064.0" fill="#636e7d" stroke="#636e7d" stroke-width="0.8"/>
<polyline points="105.0,1051.9 141.9,1043.4" fill="none" stroke="#747f8e" stroke-width="1.4" opacity="0.6"/>
<polyline points="107.4,1061.8 143.4,1051.2" fill="none" stroke="#414854" stroke-width="1.8" opacity="0.4"/>
<polygon points="108.3,1065.3 143.9,1054.3 146.0,1066.0 112.0,1080.0" fill="#636e7d" stroke="#636e7d" stroke-width="0.8"/>
<polyline points="109.0,1067.9 144.3,1056.4" fill="none" stroke="#747f8e" stroke-width="1.4" opacity="0.6"/>
<polyline points="111.4,1077.8 145.7,1064.2" fill="none" stroke="#414854" stroke-width="1.8" opacity="0.4"/>
</g>
<g stroke-linejoin="round">
<polygon points="141.0,1026.0 167.0,1024.0 170.0,1056.0 147.0,1066.0" fill="#414854" />
<polygon points="141.0,1026.0 167.0,1024.0 168.0,1034.7 143.0,1039.3" fill="#636e7d" stroke="#636e7d" stroke-width="0.8"/>
<polyline points="142.7,1037.3 167.8,1033.1" fill="none" stroke="#414854" stroke-width="1.8" opacity="0.4"/>
<polygon points="143.2,1040.6 168.1,1036.0 169.0,1045.3 145.0,1052.7" fill="#636e7d" stroke="#636e7d" stroke-width="0.8"/>
<polyline points="143.5,1042.8 168.3,1037.6" fill="none" stroke="#747f8e" stroke-width="1.4" opacity="0.6"/>
<polyline points="144.7,1050.9 168.9,1043.9" fill="none" stroke="#414854" stroke-width="1.8" opacity="0.4"/>
<polygon points="145.2,1054.0 169.1,1046.6 170.0,1056.0 147.0,1066.0" fill="#636e7d" stroke="#636e7d" stroke-width="0.8"/>
<polyline points="145.5,1056.1 169.3,1048.3" fill="none" stroke="#747f8e" stroke-width="1.4" opacity="0.6"/>
<polyline points="146.7,1064.2 169.9,1054.6" fill="none" stroke="#414854" stroke-width="1.8" opacity="0.4"/>
</g>
<g stroke-linejoin="round">
<polygon points="168.5,1026.0 208.5,1028.0 207.0,1067.0 173.0,1067.0" fill="#414854" />
<polygon points="168.5,1026.0 208.5,1028.0 208.0,1041.0 170.0,1039.7" fill="#697482" stroke="#697482" stroke-width="0.8"/>
<polyline points="169.8,1037.6 208.1,1039.0" fill="none" stroke="#414854" stroke-width="1.8" opacity="0.4"/>
<polygon points="170.1,1041.0 208.0,1042.3 207.5,1054.0 171.5,1053.3" fill="#697482" stroke="#697482" stroke-width="0.8"/>
<polyline points="170.4,1043.2 207.9,1044.4" fill="none" stroke="#788392" stroke-width="1.4" opacity="0.6"/>
<polyline points="171.3,1051.5 207.6,1052.2" fill="none" stroke="#414854" stroke-width="1.8" opacity="0.4"/>
<polygon points="171.6,1054.6 207.5,1055.3 207.0,1067.0 173.0,1067.0" fill="#697482" stroke="#697482" stroke-width="0.8"/>
<polyline points="171.9,1056.9 207.4,1057.4" fill="none" stroke="#788392" stroke-width="1.4" opacity="0.6"/>
<polyline points="172.8,1065.1 207.1,1065.2" fill="none" stroke="#414854" stroke-width="1.8" opacity="0.4"/>
</g>
</g>
<g filter="url(#b2)">
<polygon points="372.7,1054.0 360.7,1052.0 353.7,1080.0 370.7,1084.0" fill="#4c5461" />
<polygon points="391.7,1085.0 356.7,1080.0 319.7,1087.0 279.7,1075.0 258.7,1050.0 259.7,1088.0 279.7,1100.0 326.7,1127.0 386.7,1117.0" fill="#5f6a78" />
<polygon points="354.7,1080.0 296.7,1057.0 258.7,1066.0 280.7,1078.0 319.7,1088.0 356.7,1082.0" fill="#707b8a" />
<polygon points="391.7,1085.0 356.7,1080.0 319.7,1087.0 325.7,1100.0 386.7,1097.0" fill="#707b8a" />
<polyline points="388.7,1107.0 326.7,1113.0 280.7,1089.0" fill="none" stroke="#4c5461" stroke-width="0.9" />
<polyline points="325.7,1100.0 326.7,1127.0" fill="none" stroke="#4c5461" stroke-width="0.8" />
<polygon points="280.7,1090.0 259.7,1078.0 259.7,1088.0 279.7,1100.0" fill="#524e4d" />
<polygon points="367.7,1032.0 299.7,1024.0 296.7,1057.0 354.7,1081.0" fill="#4c5461" />
<g stroke-linejoin="round">
<polygon points="366.7,1032.0 327.7,1027.0 320.7,1066.0 354.7,1080.0" fill="#414854" />
<polygon points="366.7,1032.0 327.7,1027.0 325.4,1040.0 362.7,1048.0" fill="#636e7d" stroke="#636e7d" stroke-width="0.8"/>
<polyline points="363.3,1045.6 325.7,1038.0" fill="none" stroke="#414854" stroke-width="1.8" opacity="0.4"/>
<polygon points="362.4,1049.3 325.1,1041.3 323.0,1053.0 358.7,1064.0" fill="#636e7d" stroke="#636e7d" stroke-width="0.8"/>
<polyline points="361.7,1051.9 324.8,1043.4" fill="none" stroke="#747f8e" stroke-width="1.4" opacity="0.6"/>
<polyline points="359.3,1061.8 323.3,1051.2" fill="none" stroke="#414854" stroke-width="1.8" opacity="0.4"/>
<polygon points="358.4,1065.3 322.8,1054.3 320.7,1066.0 354.7,1080.0" fill="#636e7d" stroke="#636e7d" stroke-width="0.8"/>
<polyline points="357.7,1067.9 322.4,1056.4" fill="none" stroke="#747f8e" stroke-width="1.4" opacity="0.6"/>
<polyline points="355.3,1077.8 321.0,1064.2" fill="none" stroke="#414854" stroke-width="1.8" opacity="0.4"/>
</g>
<g stroke-linejoin="round">
<polygon points="325.7,1026.0 299.7,1024.0 296.7,1056.0 319.7,1066.0" fill="#414854" />
<polygon points="325.7,1026.0 299.7,1024.0 298.7,1034.7 323.7,1039.3" fill="#636e7d" stroke="#636e7d" stroke-width="0.8"/>
<polyline points="324.0,1037.3 298.8,1033.1" fill="none" stroke="#414854" stroke-width="1.8" opacity="0.4"/>
<polygon points="323.5,1040.6 298.6,1036.0 297.7,1045.3 321.7,1052.7" fill="#636e7d" stroke="#636e7d" stroke-width="0.8"/>
<polyline points="323.2,1042.8 298.4,1037.6" fill="none" stroke="#747f8e" stroke-width="1.4" opacity="0.6"/>
<polyline points="322.0,1050.9 297.8,1043.9" fill="none" stroke="#414854" stroke-width="1.8" opacity="0.4"/>
<polygon points="321.5,1054.0 297.6,1046.6 296.7,1056.0 319.7,1066.0" fill="#636e7d" stroke="#636e7d" stroke-width="0.8"/>
<polyline points="321.2,1056.1 297.4,1048.3" fill="none" stroke="#747f8e" stroke-width="1.4" opacity="0.6"/>
<polyline points="320.0,1064.2 296.8,1054.6" fill="none" stroke="#414854" stroke-width="1.8" opacity="0.4"/>
</g>
<g stroke-linejoin="round">
<polygon points="298.2,1026.0 258.2,1028.0 259.7,1067.0 293.7,1067.0" fill="#414854" />
<polygon points="298.2,1026.0 258.2,1028.0 258.7,1041.0 296.7,1039.7" fill="#697482" stroke="#697482" stroke-width="0.8"/>
<polyline points="296.9,1037.6 258.6,1039.0" fill="none" stroke="#414854" stroke-width="1.8" opacity="0.4"/>
<polygon points="296.6,1041.0 258.7,1042.3 259.2,1054.0 295.2,1053.3" fill="#697482" stroke="#697482" stroke-width="0.8"/>
<polyline points="296.3,1043.2 258.8,1044.4" fill="none" stroke="#788392" stroke-width="1.4" opacity="0.6"/>
<polyline points="295.4,1051.5 259.1,1052.2" fill="none" stroke="#414854" stroke-width="1.8" opacity="0.4"/>
<polygon points="295.1,1054.6 259.2,1055.3 259.7,1067.0 293.7,1067.0" fill="#697482" stroke="#697482" stroke-width="0.8"/>
<polyline points="294.8,1056.9 259.3,1057.4" fill="none" stroke="#788392" stroke-width="1.4" opacity="0.6"/>
<polyline points="293.9,1065.1 259.6,1065.2" fill="none" stroke="#414854" stroke-width="1.8" opacity="0.4"/>
</g>
</g>
<g filter="url(#b2)">
<polygon points="450.0,870.0 458.0,868.0 463.0,897.0 453.0,899.0" fill="#4c5461" />
<polygon points="443.0,901.0 460.0,897.0 500.0,905.0 537.0,903.0 565.0,889.0 566.0,906.0 540.0,920.0 500.0,940.0 445.0,930.0" fill="#5f6a78" />
<polygon points="443.0,900.0 460.0,896.0 525.0,880.0 565.0,888.0 538.0,904.0 500.0,911.0" fill="#707b8a" />
<polyline points="444.0,915.0 500.0,925.0 538.0,910.0" fill="none" stroke="#4c5461" stroke-width="0.9" />
<polyline points="500.0,911.0 500.0,940.0" fill="none" stroke="#4c5461" stroke-width="0.8" />
<polyline points="490.0,889.0 500.0,911.0" fill="none" stroke="#4c5461" stroke-width="0.8" />
<polygon points="538.0,907.0 565.0,895.0 566.0,908.0 540.0,919.0" fill="#524e4d" />
<g stroke-linejoin="round">
<polygon points="451.0,870.0 520.0,853.0 525.0,880.0 460.0,897.0" fill="#414854" />
<polygon points="451.0,870.0 520.0,853.0 522.5,866.5 455.5,883.5" fill="#636e7d" stroke="#636e7d" stroke-width="0.8"/>
<polyline points="454.8,881.5 522.1,864.5" fill="none" stroke="#414854" stroke-width="1.8" opacity="0.4"/>
<polygon points="455.9,884.7 522.7,867.8 525.0,880.0 460.0,897.0" fill="#636e7d" stroke="#636e7d" stroke-width="0.8"/>
<polyline points="456.6,886.9 523.1,870.0" fill="none" stroke="#747f8e" stroke-width="1.4" opacity="0.6"/>
<polyline points="459.4,895.2 524.7,878.2" fill="none" stroke="#414854" stroke-width="1.8" opacity="0.4"/>
</g>
<polygon points="524.0,838.0 564.0,840.0 566.0,890.0 526.0,882.0" fill="#4c5461" />
<g stroke-linejoin="round">
<polygon points="524.5,838.5 563.5,840.5 563.0,887.0 526.0,882.0" fill="#414854" />
<polygon points="524.5,838.5 563.5,840.5 563.3,856.0 525.0,853.0" fill="#687382" stroke="#687382" stroke-width="0.8"/>
<polyline points="524.9,850.8 563.4,853.7" fill="none" stroke="#414854" stroke-width="1.8" opacity="0.4"/>
<polygon points="525.0,854.3 563.3,857.3 563.2,871.5 525.5,867.5" fill="#687382" stroke="#687382" stroke-width="0.8"/>
<polyline points="525.1,856.7 563.3,859.9" fill="none" stroke="#788392" stroke-width="1.4" opacity="0.6"/>
<polyline points="525.4,865.5 563.2,869.4" fill="none" stroke="#414854" stroke-width="1.8" opacity="0.4"/>
<polygon points="525.5,868.8 563.2,872.8 563.0,887.0 526.0,882.0" fill="#687382" stroke="#687382" stroke-width="0.8"/>
<polyline points="525.6,871.2 563.1,875.4" fill="none" stroke="#788392" stroke-width="1.4" opacity="0.6"/>
<polyline points="525.9,880.0 563.0,884.9" fill="none" stroke="#414854" stroke-width="1.8" opacity="0.4"/>
</g>
<polygon points="563.0,860.0 566.0,861.0 567.0,905.0 564.0,890.0" fill="#4c5461" />
</g>
<g filter="url(#b2)">
<polygon points="732.0,870.0 724.0,868.0 719.0,897.0 729.0,899.0" fill="#4c5461" />
<polygon points="739.0,901.0 722.0,897.0 682.0,905.0 645.0,903.0 617.0,889.0 616.0,906.0 642.0,920.0 682.0,940.0 737.0,930.0" fill="#5f6a78" />
<polygon points="739.0,900.0 722.0,896.0 657.0,880.0 617.0,888.0 644.0,904.0 682.0,911.0" fill="#707b8a" />
<polyline points="738.0,915.0 682.0,925.0 644.0,910.0" fill="none" stroke="#4c5461" stroke-width="0.9" />
<polyline points="682.0,911.0 682.0,940.0" fill="none" stroke="#4c5461" stroke-width="0.8" />
<polyline points="692.0,889.0 682.0,911.0" fill="none" stroke="#4c5461" stroke-width="0.8" />
<polygon points="644.0,907.0 617.0,895.0 616.0,908.0 642.0,919.0" fill="#524e4d" />
<g stroke-linejoin="round">
<polygon points="731.0,870.0 662.0,853.0 657.0,880.0 722.0,897.0" fill="#414854" />
<polygon points="731.0,870.0 662.0,853.0 659.5,866.5 726.5,883.5" fill="#636e7d" stroke="#636e7d" stroke-width="0.8"/>
<polyline points="727.2,881.5 659.9,864.5" fill="none" stroke="#414854" stroke-width="1.8" opacity="0.4"/>
<polygon points="726.1,884.7 659.3,867.8 657.0,880.0 722.0,897.0" fill="#636e7d" stroke="#636e7d" stroke-width="0.8"/>
<polyline points="725.4,886.9 658.9,870.0" fill="none" stroke="#747f8e" stroke-width="1.4" opacity="0.6"/>
<polyline points="722.6,895.2 657.3,878.2" fill="none" stroke="#414854" stroke-width="1.8" opacity="0.4"/>
</g>
<polygon points="658.0,838.0 618.0,840.0 616.0,890.0 656.0,882.0" fill="#4c5461" />
<g stroke-linejoin="round">
<polygon points="657.5,838.5 618.5,840.5 619.0,887.0 656.0,882.0" fill="#414854" />
<polygon points="657.5,838.5 618.5,840.5 618.7,856.0 657.0,853.0" fill="#687382" stroke="#687382" stroke-width="0.8"/>
<polyline points="657.1,850.8 618.6,853.7" fill="none" stroke="#414854" stroke-width="1.8" opacity="0.4"/>
<polygon points="657.0,854.3 618.7,857.3 618.8,871.5 656.5,867.5" fill="#687382" stroke="#687382" stroke-width="0.8"/>
<polyline points="656.9,856.7 618.7,859.9" fill="none" stroke="#788392" stroke-width="1.4" opacity="0.6"/>
<polyline points="656.6,865.5 618.8,869.4" fill="none" stroke="#414854" stroke-width="1.8" opacity="0.4"/>
<polygon points="656.5,868.8 618.8,872.8 619.0,887.0 656.0,882.0" fill="#687382" stroke="#687382" stroke-width="0.8"/>
<polyline points="656.4,871.2 618.9,875.4" fill="none" stroke="#788392" stroke-width="1.4" opacity="0.6"/>
<polyline points="656.1,880.0 619.0,884.9" fill="none" stroke="#414854" stroke-width="1.8" opacity="0.4"/>
</g>
<polygon points="619.0,860.0 616.0,861.0 615.0,905.0 618.0,890.0" fill="#4c5461" />
</g>
<g filter="url(#b2)">
<polygon points="546.0,1065.0 573.0,1059.0 574.0,1073.0 547.0,1074.0" fill="#4c5461" />
<polygon points="546.0,1064.0 573.0,1058.0 574.0,1062.0 547.0,1068.0" fill="#404651" />
<polygon points="517.0,1083.0 573.0,1100.0 613.0,1080.0 613.0,1093.0 572.0,1120.0 520.0,1112.0" fill="#5f6a78" />
<polygon points="573.0,1100.0 613.0,1080.0 613.0,1093.0 572.0,1120.0" fill="#687382" />
<polygon points="517.0,1083.0 547.0,1073.0 574.0,1070.0 613.0,1079.0 573.0,1101.0" fill="#707b8a" />
<polyline points="547.0,1074.0 590.0,1091.0" fill="none" stroke="#4c5461" stroke-width="0.8" />
<polyline points="519.0,1098.0 572.0,1110.0" fill="none" stroke="#4c5461" stroke-width="0.8" />
<polygon points="598.0,1091.0 613.0,1083.0 613.0,1093.0 598.0,1102.0" fill="#524e4d" />
<polygon points="576.0,1029.0 612.0,1029.0 613.0,1082.0 574.0,1072.0" fill="#4c5461" />
<g stroke-linejoin="round">
<polygon points="576.5,1029.5 611.5,1029.5 612.0,1073.0 574.0,1070.0" fill="#414854" />
<polygon points="576.5,1029.5 611.5,1029.5 611.7,1044.0 575.7,1043.0" fill="#636e7d" stroke="#636e7d" stroke-width="0.8"/>
<polyline points="575.8,1041.0 611.6,1041.8" fill="none" stroke="#414854" stroke-width="1.8" opacity="0.4"/>
<polygon points="575.6,1044.3 611.7,1045.3 611.8,1058.5 574.8,1056.5" fill="#636e7d" stroke="#636e7d" stroke-width="0.8"/>
<polyline points="575.5,1046.5 611.7,1047.7" fill="none" stroke="#747f8e" stroke-width="1.4" opacity="0.6"/>
<polyline points="574.9,1054.7 611.8,1056.5" fill="none" stroke="#414854" stroke-width="1.8" opacity="0.4"/>
<polygon points="574.8,1057.8 611.8,1059.8 612.0,1073.0 574.0,1070.0" fill="#636e7d" stroke="#636e7d" stroke-width="0.8"/>
<polyline points="574.6,1060.0 611.9,1062.2" fill="none" stroke="#747f8e" stroke-width="1.4" opacity="0.6"/>
<polyline points="574.1,1068.2 612.0,1071.0" fill="none" stroke="#414854" stroke-width="1.8" opacity="0.4"/>
</g>
<polygon points="611.0,1050.0 614.0,1050.0 614.0,1085.0 611.0,1082.0" fill="#4c5461" />
</g>
<g filter="url(#b2)">
<polygon points="801.0,1065.0 774.0,1059.0 773.0,1073.0 800.0,1074.0" fill="#4c5461" />
<polygon points="801.0,1064.0 774.0,1058.0 773.0,1062.0 800.0,1068.0" fill="#404651" />
<polygon points="830.0,1083.0 774.0,1100.0 734.0,1080.0 734.0,1093.0 775.0,1120.0 827.0,1112.0" fill="#5f6a78" />
<polygon points="774.0,1100.0 734.0,1080.0 734.0,1093.0 775.0,1120.0" fill="#687382" />
<polygon points="830.0,1083.0 800.0,1073.0 773.0,1070.0 734.0,1079.0 774.0,1101.0" fill="#707b8a" />
<polyline points="800.0,1074.0 757.0,1091.0" fill="none" stroke="#4c5461" stroke-width="0.8" />
<polyline points="828.0,1098.0 775.0,1110.0" fill="none" stroke="#4c5461" stroke-width="0.8" />
<polygon points="749.0,1091.0 734.0,1083.0 734.0,1093.0 749.0,1102.0" fill="#524e4d" />
<polygon points="771.0,1029.0 735.0,1029.0 734.0,1082.0 773.0,1072.0" fill="#4c5461" />
<g stroke-linejoin="round">
<polygon points="770.5,1029.5 735.5,1029.5 735.0,1073.0 773.0,1070.0" fill="#414854" />
<polygon points="770.5,1029.5 735.5,1029.5 735.3,1044.0 771.3,1043.0" fill="#636e7d" stroke="#636e7d" stroke-width="0.8"/>
<polyline points="771.2,1041.0 735.4,1041.8" fill="none" stroke="#414854" stroke-width="1.8" opacity="0.4"/>
<polygon points="771.4,1044.3 735.3,1045.3 735.2,1058.5 772.2,1056.5" fill="#636e7d" stroke="#636e7d" stroke-width="0.8"/>
<polyline points="771.5,1046.5 735.3,1047.7" fill="none" stroke="#747f8e" stroke-width="1.4" opacity="0.6"/>
<polyline points="772.1,1054.7 735.2,1056.5" fill="none" stroke="#414854" stroke-width="1.8" opacity="0.4"/>
<polygon points="772.2,1057.8 735.2,1059.8 735.0,1073.0 773.0,1070.0" fill="#636e7d" stroke="#636e7d" stroke-width="0.8"/>
<polyline points="772.4,1060.0 735.1,1062.2" fill="none" stroke="#747f8e" stroke-width="1.4" opacity="0.6"/>
<polyline points="772.9,1068.2 735.0,1071.0" fill="none" stroke="#414854" stroke-width="1.8" opacity="0.4"/>
</g>
<polygon points="736.0,1050.0 733.0,1050.0 733.0,1085.0 736.0,1082.0" fill="#4c5461" />
</g>
<g filter="url(#b2)">
<polygon points="1000.0,722.0 1029.0,709.0 1069.0,711.5 1045.0,727.0" fill="#717c8b" stroke="#717c8b" stroke-width="1.5" stroke-linejoin="round"/>
<polygon points="1000.0,722.0 1045.0,727.0 1044.0,756.0 1001.0,750.0" fill="#5c6674" stroke="#5c6674" stroke-width="1.2" stroke-linejoin="round"/>
<polygon points="1045.0,727.0 1069.0,711.5 1068.0,739.5 1044.0,756.0" fill="#6a7582" stroke="#6a7582" stroke-width="1.2" stroke-linejoin="round"/>
<polyline points="1001.0,730.0 1044.5,736.0 1068.0,721.0" fill="none" stroke="#4d5562" stroke-width="0.9" />
<rect x="1004.0" y="751.0" width="3.5" height="3.5" rx="0" fill="#2e2e2e" />
<rect x="1039.0" y="756.0" width="4.0" height="3.5" rx="0" fill="#2e2e2e" />
</g>
<g filter="url(#b2)">
<rect x="840" y="832.5" width="42.5" height="62" rx="5" fill="#65707f"/>
<polyline points="842.0,853.0 881.0,853.0" fill="none" stroke="#3d4450" stroke-width="1.5" />
<polyline points="843.0,872.0 880.0,872.0" fill="none" stroke="#3d4450" stroke-width="1.5" />
<rect x="826" y="873" width="18" height="57" rx="5" fill="#606b79"/>
<rect x="879" y="873" width="18" height="57" rx="5" fill="#606b79"/>
<rect x="841.5" y="890" width="40" height="32" rx="4" fill="#6d7887"/>
<rect x="838.0" y="919.0" width="47.0" height="12.0" rx="2" fill="#5c6674" />
<polyline points="842.0,919.5 881.0,919.5" fill="none" stroke="#4a525e" stroke-width="1" />
<rect x="831.5" y="931.0" width="2.5" height="10.5" rx="0" fill="#ccd5df" />
<rect x="888.5" y="931.0" width="2.5" height="10.5" rx="0" fill="#ccd5df" />
</g>
<g filter="url(#b2)">
<rect x="1020.0" y="926.0" width="3.5" height="7.0" rx="0" fill="#ccd5df" />
<rect x="1067.5" y="929.0" width="5.5" height="12.0" rx="0" fill="#ccd5df" />
<rect x="1090.0" y="916.0" width="3.0" height="8.0" rx="0" fill="#ccd5df" />
<rect x="1046.0" y="911.0" width="2.5" height="6.0" rx="0" fill="#ccd5df" />
<polygon points="1016.0,904.0 1054.0,904.0 1066.0,915.0 1066.0,926.0 1052.0,913.0 1030.0,913.0 1024.0,926.0 1016.0,922.0" fill="#49515d" />
<polygon points="1022.0,886.0 1058.0,872.0 1067.0,884.0 1067.0,916.0 1052.0,906.0 1024.0,902.0" fill="#505966" />
<polygon points="1013.0,879.0 1048.0,867.0 1052.5,870.0 1053.0,884.0 1030.0,892.0 1024.0,896.0 1015.0,895.0" fill="#616c7a" stroke="#616c7a" stroke-width="1.5" stroke-linejoin="round"/>
<polygon points="1013.0,880.0 1022.0,896.0 1024.0,924.0 1016.0,922.0 1014.0,896.0" fill="#58626f" />
<polygon points="1066.0,858.0 1102.0,863.0 1100.0,871.0 1065.0,884.0 1056.5,881.0 1059.0,870.0" fill="#5c6674" />
<polygon points="1069.0,846.5 1105.5,848.5 1107.0,852.0 1102.0,863.0 1067.0,858.5 1066.0,854.0" fill="#636e7d" stroke="#636e7d" stroke-width="1.5" stroke-linejoin="round"/>
<polyline points="1067.0,858.5 1102.0,863.5" fill="none" stroke="#454c58" stroke-width="1" />
<polygon points="1031.0,891.5 1056.5,887.0 1064.0,889.0 1064.0,897.0 1054.0,899.0 1030.0,895.5" fill="#5b6573" />
<polygon points="1006.5,899.5 1014.0,896.0 1054.0,898.0 1053.0,905.0 1040.5,909.0 1016.5,905.0" fill="#677281" stroke="#677281" stroke-width="1.2" stroke-linejoin="round"/>
<polygon points="1065.5,883.5 1077.0,878.0 1100.5,869.5 1102.0,874.0 1100.5,910.0 1091.0,917.0 1073.0,928.5 1065.5,926.0" fill="#667180" stroke="#667180" stroke-width="1.5" stroke-linejoin="round"/>
<polygon points="1065.5,884.0 1073.0,887.0 1073.0,928.5 1065.5,926.0" fill="#5d6775" />
</g>
<g filter="url(#b2)">
<polygon points="933.0,1064.0 940.0,1057.0 955.0,1051.0 993.0,1048.0 994.0,1097.0 955.0,1122.0 935.0,1117.0" fill="#667180" stroke="#667180" stroke-width="1.5" stroke-linejoin="round"/>
<polygon points="933.0,1064.0 940.0,1057.0 955.0,1053.0 956.0,1122.0 935.0,1117.0" fill="#5b6573" />
<polygon points="962.0,1098.0 992.0,1085.0 993.0,1097.0 962.0,1115.0" fill="#524e4d" />
<polygon points="962.0,1100.0 964.0,1099.0 964.0,1111.0 962.0,1112.0" fill="#c9cdd2" />
</g>
<g filter="url(#b2)">
<polygon points="1096.0,1064.0 1089.0,1057.0 1074.0,1051.0 1036.0,1048.0 1035.0,1097.0 1074.0,1122.0 1094.0,1117.0" fill="#667180" stroke="#667180" stroke-width="1.5" stroke-linejoin="round"/>
<polygon points="1096.0,1064.0 1089.0,1057.0 1074.0,1053.0 1073.0,1122.0 1094.0,1117.0" fill="#5b6573" />
<polygon points="1067.0,1098.0 1037.0,1085.0 1036.0,1097.0 1067.0,1115.0" fill="#524e4d" />
<polygon points="1067.0,1100.0 1065.0,1099.0 1065.0,1111.0 1067.0,1112.0" fill="#c9cdd2" />
</g>
<g filter="url(#b2)">
<rect x="896.0" y="144.0" width="100.0" height="27.0" rx="0" fill="#6d7888" />
<rect x="896.0" y="144.0" width="100.0" height="16.0" rx="0" fill="#7a8595" />
<polyline points="929.0,146.0 929.0,170.0" fill="none" stroke="#4f5764" stroke-width="0.8" />
<polyline points="962.0,146.0 962.0,170.0" fill="none" stroke="#4f5764" stroke-width="0.8" />
<rect x="869.0" y="115.0" width="156.5" height="32.0" rx="3" fill="#697484" />
<polyline points="870.0,126.2 1024.5,126.2" fill="none" stroke="#474e5a" stroke-width="0.9" />
<polyline points="870.0,136.1 1024.5,136.1" fill="none" stroke="#474e5a" stroke-width="0.9" />
<polyline points="900.3,116.0 900.3,146.0" fill="none" stroke="#474e5a" stroke-width="1.1" />
<polyline points="931.6,116.0 931.6,146.0" fill="none" stroke="#474e5a" stroke-width="1.1" />
<polyline points="962.9,116.0 962.9,146.0" fill="none" stroke="#474e5a" stroke-width="1.1" />
<polyline points="994.2,116.0 994.2,146.0" fill="none" stroke="#474e5a" stroke-width="1.1" />
<polygon points="876.0,146.0 897.0,146.0 897.0,173.0 880.0,197.0 877.0,235.0 817.0,233.0 810.0,217.0 820.0,198.0 846.0,191.0" fill="#6d7888" stroke="#6d7888" stroke-width="1.5" stroke-linejoin="round"/>
<polygon points="876.0,146.0 897.0,146.0 897.0,165.0 880.0,190.0 878.0,210.0 815.0,208.0 820.0,198.0 846.0,191.0" fill="#7a8595" />
<polyline points="812.0,224.0 876.0,226.0" fill="none" stroke="#4f5764" stroke-width="0.8" />
<polyline points="848.0,192.0 880.0,192.0" fill="none" stroke="#4f5764" stroke-width="0.8" />
<polygon points="818.0,180.0 823.0,176.0 835.0,194.0 826.0,200.0" fill="#4d5562" />
<polygon points="822.0,155.0 840.0,140.0 862.0,117.0 870.0,115.0 877.0,147.0 847.0,190.0 833.0,194.0" fill="#6b7686" stroke="#6b7686" stroke-width="1.5" stroke-linejoin="round"/>
<polyline points="841.0,141.0 856.0,176.0" fill="none" stroke="#474e5a" stroke-width="0.9" />
<polyline points="852.0,127.0 866.0,160.0" fill="none" stroke="#474e5a" stroke-width="0.9" />
<polyline points="833.0,155.0 846.0,181.0" fill="none" stroke="#7c8796" stroke-width="0.9" opacity="0.5"/>
<polygon points="993.0,146.0 1020.0,143.0 1047.0,171.0 1060.0,180.0 1057.0,197.0 1010.0,198.0 998.0,180.0 996.0,163.0" fill="#6d7888" stroke="#6d7888" stroke-width="1.5" stroke-linejoin="round"/>
<polygon points="993.0,146.0 1020.0,143.0 1047.0,171.0 1058.0,181.0 1004.0,182.0 997.0,165.0" fill="#7a8595" />
<polygon points="1025.0,116.0 1033.0,118.0 1057.0,142.0 1058.0,157.0 1047.0,172.0 1020.0,143.0" fill="#5a6473" stroke="#5a6473" stroke-width="1.5" stroke-linejoin="round"/>
<polygon points="1052.0,160.0 1058.0,156.0 1059.0,172.0 1054.0,180.0 1048.0,173.0" fill="#4b5360" />
</g>
<g filter="url(#b2)">
<rect x="933.0" y="309.0" width="98.0" height="27.0" rx="0" fill="#6d7888" />
<rect x="933.0" y="309.0" width="98.0" height="15.0" rx="0" fill="#7a8595" />
<polyline points="965.0,311.0 965.0,335.0" fill="none" stroke="#4f5764" stroke-width="0.8" />
<polyline points="998.0,311.0 998.0,335.0" fill="none" stroke="#4f5764" stroke-width="0.8" />
<rect x="901.5" y="280.5" width="158.5" height="31.5" rx="3" fill="#697484" />
<polyline points="902.5,291.5 1059.0,291.5" fill="none" stroke="#474e5a" stroke-width="0.9" />
<polyline points="902.5,301.2 1059.0,301.2" fill="none" stroke="#474e5a" stroke-width="0.9" />
<polyline points="933.2,281.5 933.2,311.0" fill="none" stroke="#474e5a" stroke-width="1.1" />
<polyline points="964.9,281.5 964.9,311.0" fill="none" stroke="#474e5a" stroke-width="1.1" />
<polyline points="996.6,281.5 996.6,311.0" fill="none" stroke="#474e5a" stroke-width="1.1" />
<polyline points="1028.3,281.5 1028.3,311.0" fill="none" stroke="#474e5a" stroke-width="1.1" />
<polygon points="910.0,310.0 934.0,310.0 934.0,327.0 930.0,336.0 925.0,360.0 867.0,361.0 864.0,352.0 864.0,344.0 890.0,338.0" fill="#6d7888" stroke="#6d7888" stroke-width="1.5" stroke-linejoin="round"/>
<polygon points="910.0,310.0 934.0,310.0 934.0,322.0 928.0,334.0 864.0,344.0 890.0,338.0" fill="#7a8595" />
<polyline points="865.0,352.0 926.0,348.0" fill="none" stroke="#4f5764" stroke-width="0.8" />
<polygon points="866.0,318.0 872.0,314.0 880.0,340.0 872.0,344.0" fill="#4b5360" />
<polygon points="868.0,338.0 874.0,335.0 880.0,343.0 870.0,346.0" fill="#4b5360" />
<polygon points="870.0,310.0 898.0,282.0 905.0,283.0 911.0,311.0 890.0,340.0 877.0,343.0" fill="#6b7686" stroke="#6b7686" stroke-width="1.5" stroke-linejoin="round"/>
<polyline points="880.0,300.0 893.0,330.0" fill="none" stroke="#474e5a" stroke-width="0.8" />
<polyline points="889.0,291.0 902.0,320.0" fill="none" stroke="#474e5a" stroke-width="0.8" />
<polygon points="1030.0,310.0 1052.0,310.0 1100.0,353.0 1115.0,357.0 1113.0,385.0 1050.0,388.0 1030.0,335.0" fill="#6d7888" stroke="#6d7888" stroke-width="1.5" stroke-linejoin="round"/>
<polygon points="1030.0,310.0 1052.0,310.0 1100.0,353.0 1114.0,358.0 1048.0,360.0 1032.0,325.0" fill="#7a8595" />
<polyline points="1048.0,360.0 1050.0,387.0" fill="none" stroke="#4f5764" stroke-width="0.8" />
<polygon points="1060.0,283.0 1070.0,285.0 1110.0,318.0 1112.0,333.0 1100.0,353.0 1052.0,310.0" fill="#6b7686" stroke="#6b7686" stroke-width="1.5" stroke-linejoin="round"/>
<polyline points="1077.0,291.0 1066.0,322.0" fill="none" stroke="#474e5a" stroke-width="0.9" />
<polyline points="1092.0,304.0 1081.0,336.0" fill="none" stroke="#474e5a" stroke-width="0.9" />
<polyline points="1063.0,296.0 1104.0,337.0" fill="none" stroke="#7c8796" stroke-width="0.8" opacity="0.5"/>
<polygon points="1104.0,345.0 1112.0,338.0 1113.0,352.0 1108.0,357.0" fill="#4b5360" />
</g>
<g filter="url(#b2)">
<polygon points="938.0,447.0 952.0,441.0 952.0,482.0 942.0,478.0" fill="#5c6674" stroke="#5c6674" stroke-width="2" stroke-linejoin="round"/>
<rect x="951.0" y="451.0" width="98.0" height="31.0" rx="0" fill="#6d7888" />
<rect x="951.0" y="451.0" width="98.0" height="16.0" rx="0" fill="#7a8595" />
<polyline points="983.0,453.0 983.0,481.0" fill="none" stroke="#4f5764" stroke-width="0.8" />
<polyline points="1015.0,453.0 1015.0,481.0" fill="none" stroke="#4f5764" stroke-width="0.8" />
<rect x="951.5" y="421.5" width="126.5" height="31.5" rx="3" fill="#697484" />
<polyline points="952.5,432.5 1077.0,432.5" fill="none" stroke="#474e5a" stroke-width="0.9" />
<polyline points="952.5,442.2 1077.0,442.2" fill="none" stroke="#474e5a" stroke-width="0.9" />
<polyline points="983.1,422.5 983.1,452.0" fill="none" stroke="#474e5a" stroke-width="1.1" />
<polyline points="1014.8,422.5 1014.8,452.0" fill="none" stroke="#474e5a" stroke-width="1.1" />
<polyline points="1046.4,422.5 1046.4,452.0" fill="none" stroke="#474e5a" stroke-width="1.1" />
<polygon points="1048.0,452.0 1077.0,452.0 1100.0,477.0 1117.0,487.0 1115.0,507.0 1058.0,508.0 1048.0,482.0" fill="#6d7888" stroke="#6d7888" stroke-width="1.5" stroke-linejoin="round"/>
<polygon points="1048.0,452.0 1077.0,452.0 1100.0,477.0 1116.0,488.0 1056.0,490.0 1050.0,470.0" fill="#7a8595" />
<polyline points="1057.0,499.0 1115.0,498.0" fill="none" stroke="#4f5764" stroke-width="0.8" />
<polygon points="1078.0,423.0 1085.0,423.0 1111.0,450.0 1110.0,473.0 1100.0,477.0 1077.0,452.0" fill="#6b7686" stroke="#6b7686" stroke-width="1.5" stroke-linejoin="round"/>
<polyline points="1090.0,430.0 1083.0,458.0" fill="none" stroke="#474e5a" stroke-width="0.8" />
<polyline points="1100.0,440.0 1092.0,468.0" fill="none" stroke="#474e5a" stroke-width="0.8" />
<polygon points="1106.0,470.0 1112.0,463.0 1113.0,478.0 1108.0,483.0" fill="#4b5360" />
</g>
<text x="39.0" y="64.0" font-size="23.7" textLength="259.0" lengthAdjust="spacingAndGlyphs" fill="#1a1a1a" font-weight="normal"  stroke="#1a1a1a" stroke-width="0.5">PRZYKŁADOWE ZESTAWY</text>
<rect x="39.3" y="71.6" width="324.0" height="1.5" rx="0" fill="#3a3a3a" />
<text x="39.0" y="579.6" font-size="23.7" textLength="91.6" lengthAdjust="spacingAndGlyphs" fill="#1a1a1a" font-weight="normal"  stroke="#1a1a1a" stroke-width="0.5">MODUŁY</text>
<rect x="39.3" y="587.6" width="324.0" height="1.5" rx="0" fill="#3a3a3a" />
<text x="90.8" y="490.3" font-size="17.7" textLength="216.9" lengthAdjust="spacingAndGlyphs" fill="#1e1e1e" font-weight="normal"  stroke="#1e1e1e" stroke-width="0.25">NMPR+1S+NZPR+3FN+NDPL</text>
<text x="915.5" y="232.7" font-size="17.4" textLength="193.8" lengthAdjust="spacingAndGlyphs" fill="#1e1e1e" font-weight="normal"  stroke="#1e1e1e" stroke-width="0.25">HN+1S+NZPR+3FN+NDPL</text>
<text x="823.1" y="392.3" font-size="17.4" textLength="200.6" lengthAdjust="spacingAndGlyphs" fill="#1e1e1e" font-weight="normal"  stroke="#1e1e1e" stroke-width="0.25">NDPR+3FN+NZPL+1S+BKR</text>
<text x="861.1" y="512.3" font-size="17.4" textLength="119.9" lengthAdjust="spacingAndGlyphs" fill="#1e1e1e" font-weight="normal"  stroke="#1e1e1e" stroke-width="0.25">BKL+3FN+NDPL</text>
<text x="138.4" y="645.0" font-size="22.8" textLength="41.9" lengthAdjust="spacingAndGlyphs" fill="#161616" font-weight="normal"  stroke="#161616" stroke-width="0.45">3FN</text>
<text x="478.4" y="645.0" font-size="22.8" textLength="40.2" lengthAdjust="spacingAndGlyphs" fill="#161616" font-weight="normal"  stroke="#161616" stroke-width="0.45">2FN</text>
<text x="768.4" y="645.0" font-size="22.8" textLength="24.6" lengthAdjust="spacingAndGlyphs" fill="#161616" font-weight="normal"  stroke="#161616" stroke-width="0.45">1S</text>
<text x="993.4" y="656.3" font-size="22.5" textLength="86.1" lengthAdjust="spacingAndGlyphs" fill="#161616" font-weight="normal"  stroke="#161616" stroke-width="0.45">HN/HNP</text>
<text x="1008.8" y="684.6" font-size="22.5" textLength="54.9" lengthAdjust="spacingAndGlyphs" fill="#161616" font-weight="normal"  stroke="#161616" stroke-width="0.45">H/HP</text>
<text x="107.4" y="823.0" font-size="22.8" textLength="57.2" lengthAdjust="spacingAndGlyphs" fill="#161616" font-weight="normal"  stroke="#161616" stroke-width="0.45">NZPR</text>
<text x="277.7" y="823.0" font-size="22.8" textLength="56.3" lengthAdjust="spacingAndGlyphs" fill="#161616" font-weight="normal"  stroke="#161616" stroke-width="0.45">NZPL</text>
<text x="473.4" y="822.7" font-size="22.8" textLength="63.2" lengthAdjust="spacingAndGlyphs" fill="#161616" font-weight="normal"  stroke="#161616" stroke-width="0.45">NMPR</text>
<text x="646.1" y="822.7" font-size="22.8" textLength="61.9" lengthAdjust="spacingAndGlyphs" fill="#161616" font-weight="normal"  stroke="#161616" stroke-width="0.45">NMPL</text>
<text x="776.6" y="825.0" font-size="24.0" textLength="47.7" lengthAdjust="spacingAndGlyphs" fill="#161616" font-weight="normal"  stroke="#161616" stroke-width="0.45">1/1C</text>
<text x="999.2" y="849.2" font-size="22.8" textLength="26.3" lengthAdjust="spacingAndGlyphs" fill="#161616" font-weight="normal"  stroke="#161616" stroke-width="0.45">1C</text>
<text x="110.1" y="1008.3" font-size="22.5" textLength="60.1" lengthAdjust="spacingAndGlyphs" fill="#161616" font-weight="normal"  stroke="#161616" stroke-width="0.45">NDPR</text>
<text x="297.4" y="1008.3" font-size="22.5" textLength="58.8" lengthAdjust="spacingAndGlyphs" fill="#161616" font-weight="normal"  stroke="#161616" stroke-width="0.45">NDPL</text>
<text x="548.4" y="1008.3" font-size="22.5" textLength="60.5" lengthAdjust="spacingAndGlyphs" fill="#161616" font-weight="normal"  stroke="#161616" stroke-width="0.45">NOPR</text>
<text x="742.4" y="1008.3" font-size="22.5" textLength="59.3" lengthAdjust="spacingAndGlyphs" fill="#161616" font-weight="normal"  stroke="#161616" stroke-width="0.45">NOPL</text>
<text x="944.4" y="1008.3" font-size="22.5" textLength="40.1" lengthAdjust="spacingAndGlyphs" fill="#161616" font-weight="normal"  stroke="#161616" stroke-width="0.45">BKL</text>
<text x="1044.4" y="1008.3" font-size="22.5" textLength="41.8" lengthAdjust="spacingAndGlyphs" fill="#161616" font-weight="normal"  stroke="#161616" stroke-width="0.45">BKR</text>
<text x="1135.1" y="1180.7" font-size="22.5" textLength="24.4" lengthAdjust="spacingAndGlyphs" fill="#161616" font-weight="normal"  stroke="#161616" stroke-width="0.45">21</text>
<text x="272.7" y="716.7" font-size="18.6" textLength="27.3" lengthAdjust="spacingAndGlyphs" fill="#3c3c3c" font-weight="normal" >104</text>
<text x="34.4" y="737.3" font-size="18.6" textLength="19.9" lengthAdjust="spacingAndGlyphs" fill="#3c3c3c" font-weight="normal" >93</text>
<text x="145.4" y="793.3" font-size="18.6" textLength="26.6" lengthAdjust="spacingAndGlyphs" fill="#3c3c3c" font-weight="normal" >200</text>
<text x="585.4" y="715.5" font-size="18.6" textLength="25.6" lengthAdjust="spacingAndGlyphs" fill="#3c3c3c" font-weight="normal" >104</text>
<text x="404.7" y="735.5" font-size="18.6" textLength="19.6" lengthAdjust="spacingAndGlyphs" fill="#3c3c3c" font-weight="normal" >93</text>
<text x="486.0" y="793.5" font-size="18.6" textLength="26.7" lengthAdjust="spacingAndGlyphs" fill="#3c3c3c" font-weight="normal" >140</text>
<text x="841.7" y="716.7" font-size="18.6" textLength="28.1" lengthAdjust="spacingAndGlyphs" fill="#3c3c3c" font-weight="normal" >104</text>
<text x="714.5" y="735.4" font-size="18.6" textLength="19.0" lengthAdjust="spacingAndGlyphs" fill="#3c3c3c" font-weight="normal" >93</text>
<text x="770.4" y="793.8" font-size="18.6" textLength="19.4" lengthAdjust="spacingAndGlyphs" fill="#3c3c3c" font-weight="normal" >70</text>
<text x="961.2" y="743.0" font-size="18.6" textLength="19.0" lengthAdjust="spacingAndGlyphs" fill="#3c3c3c" font-weight="normal" >43</text>
<text x="1080.0" y="767.5" font-size="18.6" textLength="19.8" lengthAdjust="spacingAndGlyphs" fill="#3c3c3c" font-weight="normal" >93</text>
<text x="1013.3" y="793.8" font-size="18.6" textLength="19.0" lengthAdjust="spacingAndGlyphs" fill="#3c3c3c" font-weight="normal" >51</text>
<text x="918.3" y="896.7" font-size="18.6" textLength="57.7" lengthAdjust="spacingAndGlyphs" fill="#3c3c3c" font-weight="normal" >102/107</text>
<text x="790.4" y="915.4" font-size="18.6" textLength="18.9" lengthAdjust="spacingAndGlyphs" fill="#3c3c3c" font-weight="normal" >85</text>
<text x="852.0" y="973.3" font-size="18.6" textLength="19.8" lengthAdjust="spacingAndGlyphs" fill="#3c3c3c" font-weight="normal" >80</text>
<text x="1126.7" y="887.5" font-size="18.6" textLength="18.9" lengthAdjust="spacingAndGlyphs" fill="#3c3c3c" font-weight="normal" >85</text>
<text x="1111.2" y="943.8" font-size="18.6" textLength="27.3" lengthAdjust="spacingAndGlyphs" fill="#3c3c3c" font-weight="normal" >158</text>
<text x="1036.2" y="973.3" font-size="18.6" textLength="19.0" lengthAdjust="spacingAndGlyphs" fill="#3c3c3c" font-weight="normal" >80</text>
<text x="28.0" y="892.7" font-size="18.6" textLength="25.7" lengthAdjust="spacingAndGlyphs" fill="#3c3c3c" font-weight="normal" >104</text>
<text x="196.0" y="939.3" font-size="18.6" textLength="26.0" lengthAdjust="spacingAndGlyphs" fill="#3c3c3c" font-weight="normal" >160</text>
<text x="98.0" y="975.0" font-size="18.6" textLength="19.7" lengthAdjust="spacingAndGlyphs" fill="#3c3c3c" font-weight="normal" >93</text>
<text x="28.0" y="1071.0" font-size="18.6" textLength="25.7" lengthAdjust="spacingAndGlyphs" fill="#3c3c3c" font-weight="normal" >104</text>
<text x="207.7" y="1126.7" font-size="18.6" textLength="26.6" lengthAdjust="spacingAndGlyphs" fill="#3c3c3c" font-weight="normal" >193</text>
<text x="99.4" y="1160.7" font-size="18.6" textLength="19.3" lengthAdjust="spacingAndGlyphs" fill="#3c3c3c" font-weight="normal" >93</text>
<text x="393.7" y="896.5" font-size="18.6" textLength="27.3" lengthAdjust="spacingAndGlyphs" fill="#3c3c3c" font-weight="normal" >104</text>
<text x="567.0" y="942.7" font-size="18.6" textLength="25.7" lengthAdjust="spacingAndGlyphs" fill="#3c3c3c" font-weight="normal" >161</text>
<text x="463.7" y="975.0" font-size="18.6" textLength="19.6" lengthAdjust="spacingAndGlyphs" fill="#3c3c3c" font-weight="normal" >93</text>
<text x="457.0" y="1082.7" font-size="18.6" textLength="26.3" lengthAdjust="spacingAndGlyphs" fill="#3c3c3c" font-weight="normal" >104</text>
<text x="646.4" y="1122.7" font-size="18.6" textLength="24.6" lengthAdjust="spacingAndGlyphs" fill="#3c3c3c" font-weight="normal" >161</text>
<text x="542.0" y="1160.7" font-size="18.6" textLength="19.7" lengthAdjust="spacingAndGlyphs" fill="#3c3c3c" font-weight="normal" >93</text>
<text x="895.4" y="1095.0" font-size="18.6" textLength="18.9" lengthAdjust="spacingAndGlyphs" fill="#3c3c3c" font-weight="normal" >57</text>
<text x="1006.0" y="1122.7" font-size="18.6" textLength="20.0" lengthAdjust="spacingAndGlyphs" fill="#3c3c3c" font-weight="normal" >93</text>
<text x="914.4" y="1156.7" font-size="18.6" textLength="64.9" lengthAdjust="spacingAndGlyphs" fill="#3c3c3c" font-weight="normal" >24/19/14</text>
<line x1="268.7" y1="662.1" x2="268.7" y2="758.7" class="d" stroke-dasharray="1.5 4.85"/>
<line x1="68.7" y1="775.0" x2="252.2" y2="775.0" class="d" stroke-dasharray="1.5 5.01"/>
<line x1="35.6" y1="760.4" x2="64.5" y2="731.2" class="d" stroke-dasharray="1.5 5.14"/>
<line x1="581.7" y1="660.1" x2="581.7" y2="758.7" class="d" stroke-dasharray="1.5 4.99"/>
<line x1="438.7" y1="775.0" x2="566.2" y2="775.0" class="d" stroke-dasharray="1.5 4.81"/>
<line x1="404.6" y1="758.7" x2="434.5" y2="729.5" class="d" stroke-dasharray="1.5 5.25"/>
<line x1="838.0" y1="661.9" x2="838.0" y2="758.7" class="d" stroke-dasharray="1.5 4.87"/>
<line x1="751.4" y1="775.4" x2="813.7" y2="775.4" class="d" stroke-dasharray="1.5 4.60"/>
<line x1="716.3" y1="758.7" x2="745.5" y2="729.5" class="d" stroke-dasharray="1.5 5.17"/>
<line x1="984.6" y1="720.2" x2="984.6" y2="752.2" class="d" stroke-dasharray="1.5 4.64"/>
<line x1="1002.4" y1="775.4" x2="1043.7" y2="775.4" class="d" stroke-dasharray="1.5 5.17"/>
<line x1="1059.9" y1="760.8" x2="1088.1" y2="739.2" class="d" stroke-dasharray="1.5 5.33"/>
<line x1="915.0" y1="832.7" x2="915.0" y2="942.2" class="d" stroke-dasharray="1.5 4.86"/>
<line x1="825.7" y1="955.0" x2="897.2" y2="955.0" class="d" stroke-dasharray="1.5 4.88"/>
<line x1="790.4" y1="938.7" x2="820.5" y2="909.1" class="d" stroke-dasharray="1.5 5.32"/>
<line x1="1123.0" y1="848.4" x2="1123.0" y2="913.7" class="d" stroke-dasharray="1.5 4.90"/>
<line x1="1016.9" y1="955.0" x2="1076.2" y2="955.0" class="d" stroke-dasharray="1.5 4.94"/>
<line x1="1086.2" y1="942.9" x2="1121.3" y2="912.8" class="d" stroke-dasharray="1.5 4.91"/>
<line x1="57.3" y1="842.1" x2="57.3" y2="928.7" class="d" stroke-dasharray="1.5 5.06"/>
<line x1="80.4" y1="956.7" x2="137.2" y2="956.7" class="d" stroke-dasharray="1.5 4.67"/>
<line x1="166.2" y1="943.0" x2="221.3" y2="908.9" class="d" stroke-dasharray="1.5 4.85"/>
<line x1="57.3" y1="1014.4" x2="57.3" y2="1116.2" class="d" stroke-dasharray="1.5 4.78"/>
<line x1="80.4" y1="1142.7" x2="139.7" y2="1142.7" class="d" stroke-dasharray="1.5 4.94"/>
<line x1="168.5" y1="1128.0" x2="230.6" y2="1092.4" class="d" stroke-dasharray="1.5 4.89"/>
<line x1="424.3" y1="832.7" x2="424.3" y2="923.7" class="d" stroke-dasharray="1.5 4.91"/>
<line x1="443.7" y1="956.7" x2="504.7" y2="956.7" class="d" stroke-dasharray="1.5 5.13"/>
<line x1="533.8" y1="941.0" x2="592.3" y2="909.0" class="d" stroke-dasharray="1.5 5.04"/>
<line x1="488.3" y1="1025.4" x2="488.3" y2="1123.7" class="d" stroke-dasharray="1.5 4.97"/>
<line x1="507.7" y1="1140.7" x2="596.2" y2="1140.7" class="d" stroke-dasharray="1.5 4.73"/>
<line x1="616.2" y1="1126.3" x2="668.9" y2="1092.9" class="d" stroke-dasharray="1.5 4.61"/>
<line x1="919.0" y1="1057.1" x2="919.0" y2="1115.7" class="d" stroke-dasharray="1.5 4.87"/>
<line x1="936.7" y1="1138.7" x2="958.2" y2="1138.7" class="d" stroke-dasharray="1.5 5.23"/>
<line x1="976.2" y1="1124.3" x2="1013.3" y2="1100.6" class="d" stroke-dasharray="1.5 4.60"/>
</svg>
</body></html>
